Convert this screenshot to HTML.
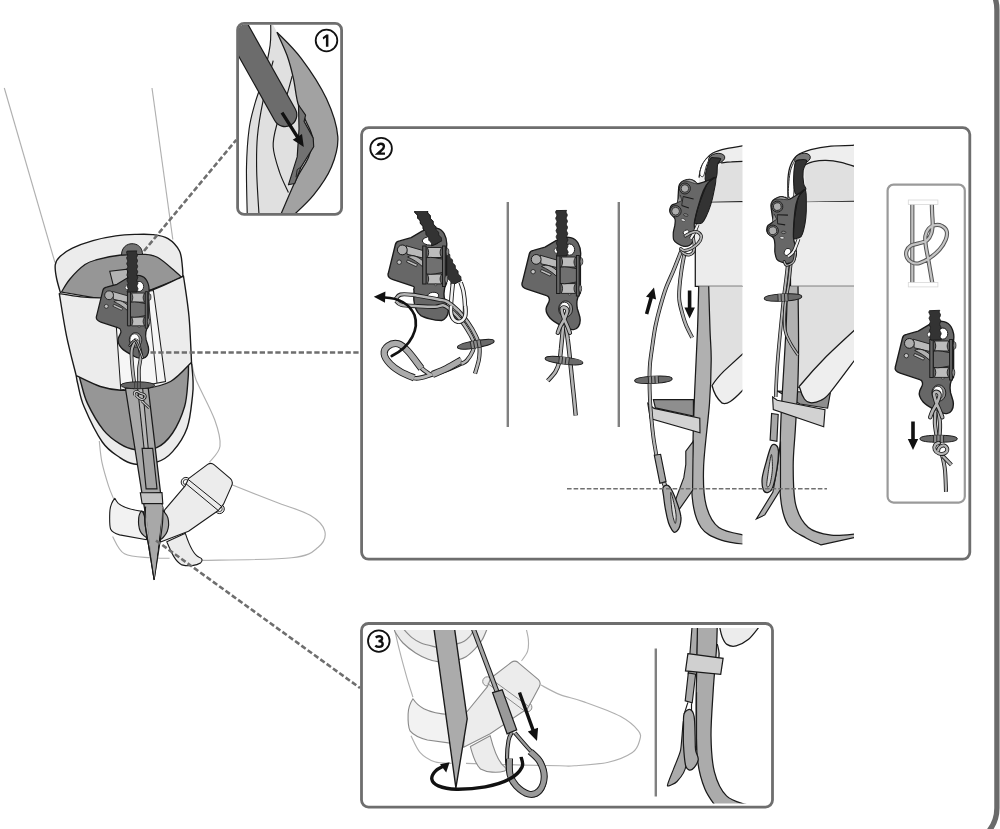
<!DOCTYPE html><html><head><meta charset="utf-8"><style>html,body{margin:0;padding:0;background:#fff;overflow:hidden}body{width:1000px;height:829px;font-family:"Liberation Sans",sans-serif}</style></head><body><svg width="1000" height="829" viewBox="0 0 1000 829" style="display:block"><path d="M959.9,-27.3 A37,37 0 0 1 996.9,9.7 V808 A37,37 0 0 1 959.9,845" fill="none" stroke="#6a6a6a" stroke-width="5.3"/>
<path d="M4.3,88 L55,262.7" stroke="#b0b0b0" stroke-width="1.15" fill="none"/><path d="M152,88 L172.8,239.5" stroke="#b0b0b0" stroke-width="1.15" fill="none"/><path d="M192.1,364.1 C192.8,366.7 192.4,370.7 196.1,380 C199.9,389.3 210.7,408.7 214.7,419.8 C218.7,430.9 220.9,439.3 220,446.3 C219.1,453.4 211.2,459.6 209.4,462.2" stroke="#b0b0b0" stroke-width="1.15" fill="none"/><path d="M231.9,484.8 C239.2,487.7 262.7,497 275.7,502 C288.8,507.1 302,510.5 310.2,515.3 C318.4,520.2 323.5,525.9 324.8,531.2 C326.1,536.5 323.7,542.7 318.2,547.2 C312.6,551.6 311.1,555.6 291.6,557.8 C272.2,560 216.5,560 201.4,560.4" stroke="#b0b0b0" stroke-width="1.15" fill="none"/><path d="M99.3,441 C99.7,444.6 100.4,454.7 101.9,462.2 C103.5,469.8 106.6,479.9 108.6,486.1 C110.6,492.3 113,497.2 113.9,499.4" stroke="#b0b0b0" stroke-width="1.15" fill="none"/><path d="M112.6,536.5 C114.5,539.4 118.1,550.2 124.5,553.8 C130.9,557.3 143.5,557 151,557.8 C158.5,558.5 166.5,558.2 169.6,558.3" stroke="#b0b0b0" stroke-width="1.15" fill="none"/><path transform="translate(40,380) scale(0.26525)" d="M478,610 C495,650 510,685 535,697 C560,704 590,700 605,690 C615,680 612,672 600,668 C580,660 565,630 548,578 Z" fill="#ececec" stroke="#1a1a1a" stroke-width="1.1" vector-effect="non-scaling-stroke" stroke-linejoin="round" /><circle cx="185.9" cy="482.1" r="4.7" fill="#ececec" stroke="#1a1a1a" stroke-width="1"/><circle cx="185.9" cy="482.1" r="2.6" fill="#fff" stroke="#1a1a1a" stroke-width="0.8"/><circle cx="219.6" cy="508.9" r="4.7" fill="#ececec" stroke="#1a1a1a" stroke-width="1"/><circle cx="219.6" cy="508.9" r="2.6" fill="#fff" stroke="#1a1a1a" stroke-width="0.8"/><path transform="translate(40,380) scale(0.26525)" d="M452,612 L470,490 L548,398 L560,372 L632,318 Q645,310 657,320 L718,372 Q730,384 722,400 L692,468 L672,492 L560,570 Z" fill="#ececec" stroke="#1a1a1a" stroke-width="1.1" vector-effect="non-scaling-stroke" stroke-linejoin="round" /><path transform="translate(40,380) scale(0.26525)" d="M560,376 L684,476 M549,390 L672,492" fill="none" stroke="#1a1a1a" stroke-width="1" vector-effect="non-scaling-stroke" stroke-linejoin="round" /><path transform="translate(40,380) scale(0.26525)" d="M282,446 C270,460 264,475 263,500 C262,530 262,550 266,562 C272,575 285,580 300,584 L402,602 L390,496 C350,490 310,478 295,465 C288,458 285,452 282,446 Z" fill="#f2f2f2" stroke="#1a1a1a" stroke-width="1.1" vector-effect="non-scaling-stroke" stroke-linejoin="round" /><path d="M76.2,375.6 C76.5,377 76.5,378.9 77.8,384 C79.1,389.1 79.9,396.8 84,406.5 C88.1,416.2 96.4,433.5 102.3,442 C108.2,450.5 114.2,453.6 119.5,457.3 C124.8,461 127.8,463.2 134,464 C140.2,464.8 150.3,464.3 156.7,462.2 C163.1,460.1 167.5,457.4 172.6,451.6 C177.7,445.9 183.9,437 187.2,427.7 C190.5,418.4 191.5,403.9 192.5,396 C193.5,388.1 193.2,385.6 193,380 C192.8,374.4 191.8,365.2 191.5,362.3" fill="#ececec" stroke="#1a1a1a" stroke-width="1.38" /><path d="M79.5,377 C79.8,378 79.6,378.5 81,383 C82.4,387.5 83.9,396 87.7,403.9 C91.5,411.8 98.4,423.8 103.7,430.4 C109,437 114.5,440.5 119.6,443.7 C124.7,446.9 128,448.9 134.2,449.5 C140.4,450.1 150.3,450.4 156.7,447.6 C163.1,444.9 167.9,439.9 172.6,433 C177.2,426.1 182,415.3 184.6,406.5 C187.2,397.7 187.3,386.8 188,380 C188.7,373.2 188.4,368.3 188.5,366" fill="#969696" stroke="#1a1a1a" stroke-width="1.38" /><path d="M60.5,293 C59.8,290.5 57.4,282.7 56.5,278 C55.6,273.3 54.7,268.2 55.3,264.6 C55.9,261 57.1,259.2 60,256.5 C62.9,253.8 66.9,250.8 72.4,248.2 C77.9,245.5 85.8,242.6 93,240.6 C100.2,238.6 108.8,236.9 115.8,235.9 C122.8,234.9 128.9,234.6 135,234.4 C141.1,234.2 147,233.9 152.5,234.6 C158,235.3 163.5,235.9 168,238.6 C172.5,241.3 177.1,246.3 179.5,251 C181.9,255.7 181.8,262.2 182.4,267 C183,271.8 182.9,277.8 183,280" fill="#ececec" stroke="#1a1a1a" stroke-width="1.38" /><path d="M61.5,292 C62.9,289.8 66.1,283.6 70,279 C73.9,274.4 80.5,267.8 85,264.6 C89.5,261.4 91,261.3 97,259.7 C103,258.1 113.5,255.9 121.2,255 C128.9,254.1 137,253.9 143,254.3 C149,254.7 152.1,254.5 157.4,257.3 C162.7,260.1 170.9,267.8 175,271.2 C179.1,274.6 180.7,276.4 181.8,277.5 L120,302Z" fill="#969696" stroke="#1a1a1a" stroke-width="1.26" /><path d="M121.5,255 C121.5,240 142.5,240 142.5,254.4 Z" fill="#727272" stroke="#1a1a1a" stroke-width="1"/><path d="M109.7,271.2 L127.5,269.2 L128,300 L117,300 Z" fill="#b2b2b2" stroke="#1a1a1a" stroke-width="1.03" /><path d="M59.3,293.6 C62.9,294.2 74.2,296.2 81,296.9 C87.8,297.6 93.8,297.9 100.3,297.9 C106.8,297.9 111.2,298.4 120,297 C128.8,295.6 142.8,293 153.4,289.5 C164,286 178.5,278.2 183.5,276 C184.4,282.8 187.7,302.1 189,316.5 C190.3,330.9 191.1,354.7 191.5,362.3 C188,365.5 178.5,377.1 170.5,381.5 C162.5,385.9 152,387.6 143.7,389 C135.4,390.4 128,390.6 120.8,390.2 C113.6,389.8 107.7,388.9 100.3,386.5 C92.9,384.1 80.2,377.4 76.2,375.6 C74.6,369 69.3,349.5 66.5,335.8 C63.7,322.1 60.5,300.6 59.3,293.6Z" fill="#ececec" stroke="#1a1a1a" stroke-width="1.38" stroke-linejoin="round"/><path d="M114.2,296.5 L120.8,390 L165.5,381.5 L153.4,290.5 Z" fill="#f6f6f6" stroke="#1a1a1a" stroke-width="1.03" /><path d="M147.6,291.5 L157,383" fill="none" stroke="#1a1a1a" stroke-width="0.92" /><path d="M125.4,388 L142.1,494.1 L146.1,517.9 L154.1,579.5 L163.3,512.6 L160.7,494.1 L148.2,388Z" fill="#a8a8a8" stroke="#1a1a1a" stroke-width="1.26" stroke-linejoin="round"/><path d="M137.6,388 L142.6,388 L148.2,448 L144,448Z" fill="#b6b6b6" stroke="none" stroke-width="1.26" /><path d="M137.6,388 L144,448" fill="none" stroke="#1a1a1a" stroke-width="1.03" /><path d="M142.6,388 L148.2,448" fill="none" stroke="#1a1a1a" stroke-width="1.03" /><path d="M142.1,448.4 L152.7,448.4 L157,488.8 L146.1,488.8Z" fill="#a2a2a2" stroke="#1a1a1a" stroke-width="1.15" /><path d="M140.3,492.7 L162,492.5 L162.8,503.6 L142.1,503.6Z" fill="#c4c4c4" stroke="#1a1a1a" stroke-width="1.15" /><path d="M142.1,511.3 C140.9,510.4 139,514.6 138.7,517.9 C138.4,521.2 138.8,528 140.3,531.2 C141.7,534.4 146.5,538.4 147.4,537 C148.4,535.7 147,527.5 146.1,523.2 C145.2,518.9 143.4,512.2 142.1,511.3Z" fill="#a8a8a8" stroke="#1a1a1a" stroke-width="1.15" /><path d="M161.5,510.5 C162.7,509.6 166.9,514.5 167.9,517.9 C168.8,521.4 168.6,527.7 167.3,531.2 C166,534.7 161,540.5 159.9,539.2 C158.8,537.8 160.4,528 160.7,523.2 C161,518.5 160.3,511.4 161.5,510.5Z" fill="#a8a8a8" stroke="#1a1a1a" stroke-width="1.15" /><path d="M146.1,504.7 L154.1,579.5 L162.5,504.7" fill="#a8a8a8" stroke="none" stroke-width="1.15" /><path d="M145.6,506.8 C145.5,509.5 144.4,516.1 145,523.2 C145.7,530.4 147.8,540.4 149.3,549.8 C150.8,559.1 153.3,574.5 154.1,579.5" fill="#a8a8a8" stroke="#1a1a1a" stroke-width="1.15" /><path d="M162.8,506.8 C162.8,509.5 163.2,516.1 162.5,523.2 C161.9,530.4 160.2,540.4 158.8,549.8 C157.4,559.1 154.9,574.5 154.1,579.5" fill="none" stroke="#1a1a1a" stroke-width="1.15" /><path d="M145.6,506.8 L154.1,579.5 L162.8,506.8Z" fill="#a8a8a8" stroke="none" stroke-width="1.15" /><path d="M145.6,506.8 C145.5,509.5 144.4,516.1 145,523.2 C145.7,530.4 147.8,540.4 149.3,549.8 C150.8,559.1 153.3,574.5 154.1,579.5" fill="none" stroke="#1a1a1a" stroke-width="1.15" /><g transform="translate(-373.5,61.8) scale(0.9)"><path d="M529.3,254 Q530,251 533.5,250.4 L545,247.2 L556,240.6 L562,238.4 C567,236.2 574.5,236.8 578,243 C580.8,248 581,253 580.4,257 L580.4,293 C577,297 576.2,303 577.4,309 C578.6,313 580.2,316 580.2,320 C580.2,325 577.6,329.3 573.6,329.6 C570,330 566,328.5 563,326.5 C556,323 552.5,321 550,318 C546,313.5 545.5,310 546.5,307 C548,303 550,301.5 549.3,299 C549,296.8 547.5,295.8 546.6,295.6 L527,289.2 C523,287.8 521.4,285.2 522.2,282.8 Z" fill="#676767" stroke="#1a1a1a" stroke-width="1.38" stroke-linejoin="round"/><ellipse cx="565.6" cy="309" rx="7" ry="8.2" fill="#8f8f8f" stroke="#1a1a1a" stroke-width="0.9"/><ellipse cx="564.6" cy="309" rx="5.2" ry="6.8" fill="#fff" stroke="#1a1a1a" stroke-width="0.8"/><path d="M540,255.2 L556.8,260 L556.8,267.5 L541,263.8 Z" fill="#b9b9b9" stroke="#1a1a1a" stroke-width="0.92" /><path d="M541.5,266.5 C546,263.5 552,266 556.8,270.5 L556.8,276.5 C552,272 547,268.8 541.5,266.5Z" fill="#b0b0b0" stroke="#1a1a1a" stroke-width="0.92" /><circle cx="536.2" cy="259.4" r="4.9" fill="#adadad" stroke="#1a1a1a" stroke-width="1"/><circle cx="533.1" cy="271.7" r="2.2" fill="#c2c2c2" stroke="#1a1a1a" stroke-width="0.8"/><path d="M541.4,269.4 L551.4,274 L550.2,276.2 L540.4,271.6 Z" fill="#bdbdbd" stroke="#1a1a1a" stroke-width="0.8" /><ellipse cx="569.6" cy="249.6" rx="5" ry="5.6" fill="#fff" stroke="#1a1a1a" stroke-width="1"/><ellipse cx="556.2" cy="250.6" rx="2" ry="2.6" fill="#fff" stroke="#1a1a1a" stroke-width="0.6"/><path d="M561.2,257 L575.6,257 C573.5,260.5 573.5,263.5 575.6,267 L561.2,267 C563,263.5 563,260.5 561.2,257Z" fill="#bcbcbc" stroke="#1a1a1a" stroke-width="0.92" /><path d="M561.2,283.6 L575.6,283.6 C573.5,287 573.5,290 575.6,293.4 L561.2,293.4 C563,290 563,287 561.2,283.6Z" fill="#bcbcbc" stroke="#1a1a1a" stroke-width="0.92" /><path d="M560,267.2 C566,266 572,268 578.6,269 L578.6,281.6 C572,282.6 566,284.6 560,283.4Z" fill="#707070" stroke="#1a1a1a" stroke-width="0.92" /><path d="M556.6,255.4 H560 V293.4 H556.6Z" fill="#676767" stroke="#1a1a1a" stroke-width="1.03" /><path d="M576.4,255.4 H579.2 V296 H576.4Z" fill="#676767" stroke="#1a1a1a" stroke-width="1.03" /><ellipse cx="581.4" cy="261.4" rx="1.4" ry="3.6" fill="#8a8a8a" stroke="#1a1a1a" stroke-width="0.7"/><ellipse cx="580.2" cy="288.6" rx="1.4" ry="3.6" fill="#8a8a8a" stroke="#1a1a1a" stroke-width="0.7"/><ellipse cx="569.6" cy="294.4" rx="1.2" ry="0.9" fill="#999" stroke="#1a1a1a" stroke-width="0.5"/></g><path d="M136.5,338.7 C135.7,340.6 132.3,345.1 131.7,350.3 C131,355.4 132.1,363.1 132.6,369.6 C133.2,376 134.7,385.7 135.1,388.9" fill="none" stroke="#1a1a1a" stroke-width="3.7" stroke-linecap="butt" stroke-linejoin="round"/><path d="M136.5,338.7 C135.7,340.6 132.3,345.1 131.7,350.3 C131,355.4 132.1,363.1 132.6,369.6 C133.2,376 134.7,385.7 135.1,388.9" fill="none" stroke="#b4b4b4" stroke-width="2.1" stroke-linecap="butt" stroke-linejoin="round"/><path d="M137.5,340.6 C138,343 140.6,350.3 140.8,355.1 C141.1,359.9 139.2,363.9 138.9,369.6 C138.7,375.2 139.3,385.7 139.4,388.9" fill="none" stroke="#1a1a1a" stroke-width="3.7" stroke-linecap="butt" stroke-linejoin="round"/><path d="M137.5,340.6 C138,343 140.6,350.3 140.8,355.1 C141.1,359.9 139.2,363.9 138.9,369.6 C138.7,375.2 139.3,385.7 139.4,388.9" fill="none" stroke="#b4b4b4" stroke-width="2.1" stroke-linecap="butt" stroke-linejoin="round"/><path d="M129.7,345.5 C130.6,344.6 133,340.2 134.6,340.6 C136.1,341 137.6,345.1 138.9,347.9 C140.2,350.7 141.9,355.9 142.5,357.5" fill="none" stroke="#1a1a1a" stroke-width="2.6" stroke-linecap="round" stroke-linejoin="round"/><path d="M129.7,345.5 C130.6,344.6 133,340.2 134.6,340.6 C136.1,341 137.6,345.1 138.9,347.9 C140.2,350.7 141.9,355.9 142.5,357.5" fill="none" stroke="#c4c4c4" stroke-width="1.0" stroke-linecap="round" stroke-linejoin="round"/><ellipse cx="137.7" cy="385.3" rx="17" ry="3.5" fill="#666" stroke="#1a1a1a" stroke-width="0.9"/><path d="M134.6,382.1 L134.6,388.9" fill="none" stroke="#333" stroke-width="0.8" /><path d="M137.5,382.1 L137.5,388.9" fill="none" stroke="#333" stroke-width="0.8" /><path d="M140.4,382.1 L140.4,388.9" fill="none" stroke="#333" stroke-width="0.8" /><path d="M141.9,401 L149.2,407.9" fill="none" stroke="#1a1a1a" stroke-width="2.7" stroke-linecap="butt" stroke-linejoin="round"/><path d="M141.9,401 L149.2,407.9" fill="none" stroke="#c8c8c8" stroke-width="1.2000000000000002" stroke-linecap="butt" stroke-linejoin="round"/><path transform="translate(115,370) scale(0.07236)" d="M270,345 C255,300 300,280 330,310 C360,340 400,320 415,350 C430,390 390,420 350,400 C320,385 300,365 290,350" fill="none" stroke="#1a1a1a" stroke-width="38"/><path transform="translate(115,370) scale(0.07236)" d="M270,345 C255,300 300,280 330,310 C360,340 400,320 415,350 C430,390 390,420 350,400 C320,385 300,365 290,350" fill="none" stroke="#c8c8c8" stroke-width="17"/><path d="M127.1,251.1 L126.7,251.8 L126.6,252.6 L126.8,253.3 L127.2,254.1 L127.6,254.8 L127.6,255.5 L127.4,256.3 L127,257 L126.7,257.8 L126.8,258.5 L127.1,259.3 L127.5,260 L127.7,260.8 L127.6,261.5 L127.3,262.3 L126.9,263 L126.8,263.8 L127,264.5 L127.4,265.2 L127.7,266 L127.8,266.7 L127.6,267.5 L127.2,268.2 L126.9,269 L126.9,269.7 L127.3,270.5 L127.7,271.2 L127.9,271.9 L127.8,272.7 L127.4,273.4 L127.1,274.2 L127,274.9 L127.1,275.7 L127.6,276.4 L127.9,277.2 L128,277.9 L127.7,278.7 L127.3,279.4 L127.1,280.2 L127.1,280.9 L127.4,281.6 L127.8,282.4 L128.1,283.1 L128,283.9 L127.6,284.6 L127.3,285.4 L127.1,286.1 L127.3,286.9 L127.7,287.6 L128.1,288.3 L128.1,289.1 L127.9,289.8 L127.5,290.6 L127.2,291.3 L127.3,292.1 L137.1,291.9 L137,291.2 L137.3,290.4 L137.7,289.7 L137.9,288.9 L137.9,288.2 L137.5,287.5 L137.1,286.7 L136.9,286 L137,285.2 L137.4,284.5 L137.8,283.7 L137.9,283 L137.6,282.2 L137.2,281.5 L136.9,280.8 L136.9,280 L137.1,279.3 L137.5,278.5 L137.8,277.8 L137.7,277 L137.4,276.3 L136.9,275.5 L136.7,274.8 L136.9,274 L137.2,273.3 L137.6,272.5 L137.7,271.8 L137.5,271.1 L137.1,270.3 L136.7,269.6 L136.7,268.8 L137,268.1 L137.4,267.3 L137.6,266.6 L137.5,265.8 L137.2,265.1 L136.8,264.4 L136.6,263.6 L136.7,262.9 L137.1,262.1 L137.4,261.4 L137.5,260.6 L137.3,259.9 L136.9,259.1 L136.6,258.4 L136.5,257.6 L136.8,256.9 L137.2,256.1 L137.4,255.4 L137.4,254.6 L137,253.9 L136.6,253.2 L136.4,252.4 L136.5,251.7 L136.9,250.9Z" fill="#333" stroke="#1a1a1a" stroke-width="0.92" stroke-linejoin="round"/>
<clipPath id="c2a"><rect x="380" y="211" width="120" height="200"/></clipPath><g clip-path="url(#c2a)"><path d="M412,205.5 L412,206.3 L412.2,207.1 L412.6,207.7 L413.3,208.2 L413.9,208.7 L414.4,209.3 L414.7,210 L414.8,210.8 L414.8,211.6 L414.9,212.4 L415.3,213 L415.8,213.6 L416.5,214.1 L417.1,214.6 L417.4,215.3 L417.5,216 L417.6,216.9 L417.6,217.7 L417.9,218.4 L418.4,218.9 L419,219.4 L419.7,220 L420.1,220.6 L420.3,221.3 L420.3,222.1 L420.4,223 L420.5,223.7 L421,224.3 L421.6,224.8 L422.3,225.3 L422.8,225.9 L423,226.6 L423.1,227.4 L423.1,228.2 L423.2,229 L423.6,229.7 L424.2,230.2 L424.8,230.7 L425.4,231.2 L425.8,231.9 L425.9,232.7 L425.9,233.5 L426,234.3 L426.2,235 L426.7,235.6 L427.4,236.1 L428,236.6 L428.4,237.2 L428.6,237.9 L428.7,238.8 L428.7,239.6 L428.9,240.3 L429.3,240.9 L429.9,241.4 L430.6,242 L431.1,242.5 L431.4,243.2 L431.4,244 L431.4,244.9 L431.6,245.6 L431.9,246.3 L432.5,246.8 L433.2,247.3 L433.7,247.9 L434.1,248.5 L434.2,249.3 L434.2,250.1 L434.3,250.9 L434.6,251.6 L435.1,252.2 L435.7,252.7 L436.3,253.2 L436.8,253.8 L437,254.6 L437,255.4 L437,256.2 L437.2,256.9 L437.6,257.6 L438.3,258.1 L438.9,258.6 L439.4,259.2 L439.7,259.8 L439.8,260.6 L439.8,261.5 L439.9,262.2 L440.3,262.9 L440.8,263.4 L441.5,263.9 L442.1,264.5 L442.4,265.1 L442.5,265.9 L442.6,266.7 L442.6,267.5 L442.9,268.2 L443.4,268.8 L444,269.3 L444.7,269.8 L445.1,270.5 L445.3,271.2 L445.3,272 L445.4,272.8 L445.5,273.6 L446,274.2 L446.6,274.7 L447.3,275.2 L447.8,275.8 L448,276.5 L448.1,277.3 L448.1,278.1 L448.2,278.9 L448.6,279.5 L449.2,280.1 L449.8,280.6 L450.4,281.1 L450.8,281.8 L450.9,282.5 L450.9,283.4 L451,284.2 L451.2,284.9 L451.7,285.4 L461.7,280.4 L461.2,279.8 L461,279.1 L460.9,278.3 L460.9,277.5 L460.8,276.8 L460.4,276.1 L459.8,275.6 L459.2,275.1 L458.6,274.5 L458.2,273.9 L458.1,273.1 L458.1,272.3 L458.1,271.5 L457.8,270.8 L457.3,270.2 L456.6,269.7 L456,269.2 L455.6,268.5 L455.4,267.8 L455.3,267 L455.3,266.2 L455.1,265.4 L454.7,264.8 L454.1,264.3 L453.4,263.8 L452.9,263.2 L452.6,262.5 L452.6,261.7 L452.6,260.9 L452.4,260.1 L452.1,259.5 L451.5,258.9 L450.8,258.4 L450.3,257.9 L449.9,257.2 L449.8,256.5 L449.8,255.6 L449.7,254.8 L449.4,254.1 L448.9,253.6 L448.3,253.1 L447.7,252.5 L447.2,251.9 L447,251.2 L447,250.4 L447,249.5 L446.8,248.8 L446.3,248.2 L445.7,247.7 L445.1,247.2 L444.6,246.6 L444.3,245.9 L444.2,245.1 L444.2,244.3 L444.1,243.5 L443.7,242.8 L443.2,242.3 L442.5,241.8 L441.9,241.3 L441.6,240.6 L441.5,239.8 L441.5,239 L441.4,238.2 L441.1,237.5 L440.6,236.9 L439.9,236.4 L439.3,235.9 L438.9,235.3 L438.7,234.6 L438.7,233.7 L438.6,232.9 L438.5,232.2 L438,231.6 L437.4,231.1 L436.7,230.5 L436.2,230 L436,229.3 L435.9,228.5 L435.9,227.6 L435.8,226.9 L435.4,226.2 L434.8,225.7 L434.2,225.2 L433.6,224.6 L433.2,224 L433.1,223.2 L433.1,222.4 L433.1,221.6 L432.8,220.9 L432.3,220.3 L431.6,219.8 L431,219.3 L430.6,218.7 L430.4,217.9 L430.3,217.1 L430.3,216.3 L430.1,215.6 L429.7,214.9 L429.1,214.4 L428.4,213.9 L427.9,213.3 L427.6,212.6 L427.6,211.9 L427.6,211 L427.4,210.3 L427.1,209.6 L426.5,209.1 L425.8,208.6 L425.3,208 L424.9,207.4 L424.8,206.6 L424.8,205.8 L424.7,205 L424.4,204.3 L423.9,203.7 L423.3,203.2 L422.7,202.7 L422.2,202 L422,201.3 L422,200.5Z" fill="#333" stroke="#1a1a1a" stroke-width="0.92" stroke-linejoin="round"/></g><path d="M452.8,283.8 C452.6,286.3 451.7,294 451.4,299 C451,303.9 450.3,310.1 450.8,313.4 C451.3,316.8 452.9,318 454.3,319.2 C455.6,320.5 457,321.4 458.6,321 C460.2,320.5 463,318.8 464.1,316.3 C465.2,313.9 465.1,310.3 465,306.2 C464.9,302.1 464.2,295.7 463.5,291.7 C462.8,287.7 461.1,283.9 460.6,282.3" fill="none" stroke="#1a1a1a" stroke-width="4.4" stroke-linecap="butt" stroke-linejoin="round"/><path d="M452.8,283.8 C452.6,286.3 451.7,294 451.4,299 C451,303.9 450.3,310.1 450.8,313.4 C451.3,316.8 452.9,318 454.3,319.2 C455.6,320.5 457,321.4 458.6,321 C460.2,320.5 463,318.8 464.1,316.3 C465.2,313.9 465.1,310.3 465,306.2 C464.9,302.1 464.2,295.7 463.5,291.7 C462.8,287.7 461.1,283.9 460.6,282.3" fill="none" stroke="#f2f2f2" stroke-width="2.6000000000000005" stroke-linecap="butt" stroke-linejoin="round"/><g transform="translate(-133.9,-9.5)"><path d="M529.3,254 Q530,251 533.5,250.4 L545,247.2 L556,240.6 L562,238.4 C567,236.2 574.5,236.8 578,243 C580.8,248 581,253 580.4,257 L580.4,293 C578,297 577.4,303 578.4,308.5 C580,313 582.2,316 582.2,320.6 C582,325 579,329.4 575.6,330 C570,330 567,329.4 564.9,328.7 C560,327.4 557,326.6 554.8,325.1 C550.5,322 548.4,316 547.8,310 C547.4,305 548.4,301 547.6,298.6 C549,296.8 547.5,295.8 546.6,295.6 L527,289.2 C523,287.8 521.4,285.2 522.2,282.8 Z" fill="#676767" stroke="#1a1a1a" stroke-width="1.38" stroke-linejoin="round"/><ellipse cx="567" cy="305.2" rx="5.6" ry="3.4" fill="#fff" stroke="#1a1a1a" stroke-width="0.9" transform="rotate(-6 567 305.2)"/><path d="M540,255.2 L556.8,260 L556.8,267.5 L541,263.8 Z" fill="#b9b9b9" stroke="#1a1a1a" stroke-width="0.92" /><path d="M541.5,266.5 C546,263.5 552,266 556.8,270.5 L556.8,276.5 C552,272 547,268.8 541.5,266.5Z" fill="#b0b0b0" stroke="#1a1a1a" stroke-width="0.92" /><circle cx="536.2" cy="259.4" r="4.9" fill="#adadad" stroke="#1a1a1a" stroke-width="1"/><circle cx="533.1" cy="271.7" r="2.2" fill="#c2c2c2" stroke="#1a1a1a" stroke-width="0.8"/><path d="M541.4,269.4 L551.4,274 L550.2,276.2 L540.4,271.6 Z" fill="#bdbdbd" stroke="#1a1a1a" stroke-width="0.8" /><ellipse cx="564.8" cy="250.4" rx="8.6" ry="4.3" fill="#fff" stroke="#1a1a1a" stroke-width="1"/><path d="M561.2,257 L575.6,257 C573.5,260.5 573.5,263.5 575.6,267 L561.2,267 C563,263.5 563,260.5 561.2,257Z" fill="#bcbcbc" stroke="#1a1a1a" stroke-width="0.92" /><path d="M561.2,283.6 L575.6,283.6 C573.5,287 573.5,290 575.6,293.4 L561.2,293.4 C563,290 563,287 561.2,283.6Z" fill="#bcbcbc" stroke="#1a1a1a" stroke-width="0.92" /><path d="M560,267.2 C566,266 572,268 578.6,269 L578.6,281.6 C572,282.6 566,284.6 560,283.4Z" fill="#707070" stroke="#1a1a1a" stroke-width="0.92" /><path d="M556.6,255.4 H560 V293.4 H556.6Z" fill="#676767" stroke="#1a1a1a" stroke-width="1.03" /><path d="M576.4,255.4 H579.2 V296 H576.4Z" fill="#676767" stroke="#1a1a1a" stroke-width="1.03" /><ellipse cx="581.4" cy="261.4" rx="1.4" ry="3.6" fill="#8a8a8a" stroke="#1a1a1a" stroke-width="0.7"/><ellipse cx="580.2" cy="288.6" rx="1.4" ry="3.6" fill="#8a8a8a" stroke="#1a1a1a" stroke-width="0.7"/><ellipse cx="569.6" cy="294.4" rx="1.2" ry="0.9" fill="#999" stroke="#1a1a1a" stroke-width="0.5"/></g><g clip-path="url(#c2a)"><path d="M412,205.5 L412,206.3 L412.2,207.1 L412.7,207.7 L413.3,208.2 L414,208.7 L414.5,209.3 L414.7,210 L414.8,210.8 L414.8,211.7 L414.9,212.4 L415.3,213.1 L415.9,213.6 L416.6,214.1 L417.1,214.7 L417.5,215.4 L417.6,216.1 L417.6,217 L417.7,217.8 L418,218.5 L418.5,219 L419.2,219.5 L419.8,220.1 L420.2,220.7 L420.3,221.5 L420.3,222.3 L420.4,223.1 L420.6,223.8 L421.1,224.4 L421.8,224.9 L422.4,225.5 L422.9,226.1 L423.1,226.8 L423.1,227.6 L423.2,228.4 L423.3,229.2 L423.8,229.8 L424.4,230.3 L425,230.8 L425.6,231.4 L425.8,232.1 L425.9,232.9 L425.9,233.8 L426,234.5 L426.4,235.2 L427,235.7 L427.7,236.2 L428.2,236.8 L428.6,237.5 L428.7,238.2 L428.7,239.1 L428.8,239.9 L429.1,240.6 L429.6,241.1 L430.3,241.7 L430.9,242.2 L431.3,242.8 L431.5,243.6 L431.5,244.4 L431.5,245.2 L431.7,245.9 L441.8,240.9 L441.5,240.2 L441.5,239.4 L441.5,238.5 L441.3,237.8 L440.9,237.2 L440.3,236.6 L439.6,236.1 L439.1,235.5 L438.8,234.9 L438.7,234.1 L438.7,233.2 L438.6,232.4 L438.2,231.8 L437.7,231.2 L437,230.7 L436.4,230.2 L436.1,229.5 L435.9,228.7 L435.9,227.9 L435.9,227.1 L435.6,226.4 L435,225.8 L434.4,225.3 L433.8,224.8 L433.3,224.2 L433.2,223.4 L433.1,222.6 L433.1,221.8 L432.9,221 L432.4,220.4 L431.8,219.9 L431.1,219.4 L430.6,218.8 L430.4,218.1 L430.4,217.3 L430.3,216.4 L430.2,215.7 L429.8,215 L429.2,214.5 L428.5,214 L428,213.4 L427.7,212.7 L427.6,212 L427.6,211.1 L427.5,210.3 L427.1,209.7 L426.6,209.1 L425.9,208.6 L425.3,208.1 L424.9,207.4 L424.8,206.6 L424.8,205.8 L424.7,205 L424.5,204.3 L424,203.7 L423.3,203.2 L422.7,202.7 L422.2,202 L422,201.3 L422,200.5Z" fill="#333" stroke="#1a1a1a" stroke-width="0.92" stroke-linejoin="round"/></g><path d="M462.6,362.6 C460,363.9 451.8,367.9 446.7,369.9 C441.7,371.9 437.4,373.1 432.2,374.5 C427.1,375.9 420.7,378.7 415.6,378.3 C410.5,377.9 406.1,374.4 401.8,372.1 C397.6,369.7 393.2,367.1 390.3,364.1 C387.3,361.1 384.5,357 384.2,354 C383.8,350.9 385.8,347.7 388.1,346 C390.4,344.3 394.9,343 398.2,343.8 C401.5,344.7 404.2,347.2 407.9,351.1 C411.7,355 417,363.4 420.7,367.3 C424.4,371.2 428.5,373.3 430.1,374.5" fill="none" stroke="#1a1a1a" stroke-width="4.6" stroke-linecap="butt" stroke-linejoin="round"/><path d="M462.6,362.6 C460,363.9 451.8,367.9 446.7,369.9 C441.7,371.9 437.4,373.1 432.2,374.5 C427.1,375.9 420.7,378.7 415.6,378.3 C410.5,377.9 406.1,374.4 401.8,372.1 C397.6,369.7 393.2,367.1 390.3,364.1 C387.3,361.1 384.5,357 384.2,354 C383.8,350.9 385.8,347.7 388.1,346 C390.4,344.3 394.9,343 398.2,343.8 C401.5,344.7 404.2,347.2 407.9,351.1 C411.7,355 417,363.4 420.7,367.3 C424.4,371.2 428.5,373.3 430.1,374.5" fill="none" stroke="#b6b6b6" stroke-width="2.8" stroke-linecap="butt" stroke-linejoin="round"/><path d="M461.5,360 C459,361.4 451.5,366 446.7,368.4 C441.9,370.8 434.9,373.5 432.5,374.5" fill="none" stroke="#1a1a1a" stroke-width="7.2" stroke-linecap="butt" stroke-linejoin="round"/><path d="M461.5,360 C459,361.4 451.5,366 446.7,368.4 C441.9,370.8 434.9,373.5 432.5,374.5" fill="none" stroke="#ababab" stroke-width="5.4" stroke-linecap="butt" stroke-linejoin="round"/><path d="M414.2,377.8 C412,376.9 405.1,374.3 401.1,372.1 C397.1,369.8 393.1,367.1 390.3,364.1 C387.4,361.1 384.5,357 384.2,354 C383.8,350.9 385.8,347.7 388.1,346 C390.4,344.3 394.9,343 398.2,343.8 C401.5,344.7 404.1,347 407.9,351.1 C411.8,355.2 419.1,365.5 421.4,368.4" fill="none" stroke="#1a1a1a" stroke-width="7.2" stroke-linecap="butt" stroke-linejoin="round"/><path d="M414.2,377.8 C412,376.9 405.1,374.3 401.1,372.1 C397.1,369.8 393.1,367.1 390.3,364.1 C387.4,361.1 384.5,357 384.2,354 C383.8,350.9 385.8,347.7 388.1,346 C390.4,344.3 394.9,343 398.2,343.8 C401.5,344.7 404.1,347 407.9,351.1 C411.8,355.2 419.1,365.5 421.4,368.4" fill="none" stroke="#ababab" stroke-width="5.4" stroke-linecap="butt" stroke-linejoin="round"/><path d="M395.8,300.7 C396.7,301.4 397.5,303.8 401.1,304.7 C404.8,305.7 412.1,305.9 417.8,306.2 C423.4,306.5 430.9,306.9 435.1,306.8 C439.4,306.6 440.8,305 443.1,305.3 C445.4,305.6 446.6,306.7 448.9,308.5 C451.2,310.3 454.6,313.3 457.1,316 C459.7,318.7 462,321.5 464.2,324.7 C466.5,328 469.1,332.5 470.8,335.6 C472.4,338.7 473.6,340.7 473.9,343.2 C474.3,345.8 474.1,347.9 472.9,350.8 C471.7,353.6 468.8,358.3 466.8,360.5 C464.9,362.6 462.4,363.2 461.5,363.8" fill="none" stroke="#1a1a1a" stroke-width="4.2" stroke-linecap="butt" stroke-linejoin="round"/><path d="M395.8,300.7 C396.7,301.4 397.5,303.8 401.1,304.7 C404.8,305.7 412.1,305.9 417.8,306.2 C423.4,306.5 430.9,306.9 435.1,306.8 C439.4,306.6 440.8,305 443.1,305.3 C445.4,305.6 446.6,306.7 448.9,308.5 C451.2,310.3 454.6,313.3 457.1,316 C459.7,318.7 462,321.5 464.2,324.7 C466.5,328 469.1,332.5 470.8,335.6 C472.4,338.7 473.6,340.7 473.9,343.2 C474.3,345.8 474.1,347.9 472.9,350.8 C471.7,353.6 468.8,358.3 466.8,360.5 C464.9,362.6 462.4,363.2 461.5,363.8" fill="none" stroke="#b6b6b6" stroke-width="2.5" stroke-linecap="butt" stroke-linejoin="round"/><path d="M395.3,299.7 C396.2,298.8 397.4,295.4 400.4,294.6 C403.4,293.8 408.8,294.4 413.4,294.9 C418,295.4 423.6,296.7 427.9,297.5 C432.2,298.3 436.2,299 439.5,299.7 C442.7,300.4 444.3,300 447.4,301.8 C450.6,303.7 454.7,307.1 458.2,310.5 C461.6,314 465.1,318.4 468,322.5 C470.9,326.7 473.8,331.6 475.7,335.6 C477.6,339.6 478.9,342.5 479.4,346.4 C480,350.4 479.6,354.9 478.9,359.5 C478.1,364 475.6,371.3 475,373.6" fill="none" stroke="#1a1a1a" stroke-width="4.2" stroke-linecap="butt" stroke-linejoin="round"/><path d="M395.3,299.7 C396.2,298.8 397.4,295.4 400.4,294.6 C403.4,293.8 408.8,294.4 413.4,294.9 C418,295.4 423.6,296.7 427.9,297.5 C432.2,298.3 436.2,299 439.5,299.7 C442.7,300.4 444.3,300 447.4,301.8 C450.6,303.7 454.7,307.1 458.2,310.5 C461.6,314 465.1,318.4 468,322.5 C470.9,326.7 473.8,331.6 475.7,335.6 C477.6,339.6 478.9,342.5 479.4,346.4 C480,350.4 479.6,354.9 478.9,359.5 C478.1,364 475.6,371.3 475,373.6" fill="none" stroke="#b6b6b6" stroke-width="2.5" stroke-linecap="butt" stroke-linejoin="round"/><path d="M451.2,306 C451.1,306.8 450.8,309.4 450.9,311 C451,312.6 451.2,314.1 451.6,315.5 C452.1,316.9 452.6,318.2 453.6,319.3 C454.6,320.4 456.2,321.6 457.7,321.8 C459.2,322 461.1,321.4 462.4,320.4 C463.6,319.4 464.7,317.6 465.2,316 C465.7,314.4 465.6,312.7 465.6,311 C465.6,309.3 465.3,306.8 465.2,306" fill="none" stroke="#1a1a1a" stroke-width="4.4" stroke-linecap="butt" stroke-linejoin="round"/><path d="M451.2,306 C451.1,306.8 450.8,309.4 450.9,311 C451,312.6 451.2,314.1 451.6,315.5 C452.1,316.9 452.6,318.2 453.6,319.3 C454.6,320.4 456.2,321.6 457.7,321.8 C459.2,322 461.1,321.4 462.4,320.4 C463.6,319.4 464.7,317.6 465.2,316 C465.7,314.4 465.6,312.7 465.6,311 C465.6,309.3 465.3,306.8 465.2,306" fill="none" stroke="#f2f2f2" stroke-width="2.6000000000000005" stroke-linecap="butt" stroke-linejoin="round"/><g transform="rotate(-10 475.8 344.2)"><path d="M457.2,344.2 C457.2,341.6 465.6,340.7 475.8,340.7 C486,340.7 494.4,341.6 494.4,344.2 C494.4,346.8 486,347.7 475.8,347.7 C465.6,347.7 457.2,346.8 457.2,344.2Z" fill="#6a6a6a" stroke="#1a1a1a" stroke-width="1"/><rect x="470.8" y="340.8" width="10" height="6.8" fill="#8c8c8c"/><path d="M470.8,340.7 V347.7" stroke="#2a2a2a" stroke-width="1"/><path d="M474,340.7 V347.7" stroke="#2a2a2a" stroke-width="1"/><path d="M477.4,340.7 V347.7" stroke="#2a2a2a" stroke-width="1"/><path d="M480.8,340.7 V347.7" stroke="#2a2a2a" stroke-width="1"/></g><path d="M384.5,297.5 C398,298 409,303 414.5,315 C419,328 412,346 391.7,356" fill="none" stroke="#111" stroke-width="2.7" stroke-linecap="round"/><path d="M373.8,296.8 L385.4,291.4 L385,302.8 Z" fill="#111"/><g transform="translate(0,0)"><path d="M529.3,254 Q530,251 533.5,250.4 L545,247.2 L556,240.6 L562,238.4 C567,236.2 574.5,236.8 578,243 C580.8,248 581,253 580.4,257 L580.4,293 C577,297 576.2,303 577.4,309 C578.6,313 580.2,316 580.2,320 C580.2,325 577.6,329.3 573.6,329.6 C570,330 566,328.5 563,326.5 C556,323 552.5,321 550,318 C546,313.5 545.5,310 546.5,307 C548,303 550,301.5 549.3,299 C549,296.8 547.5,295.8 546.6,295.6 L527,289.2 C523,287.8 521.4,285.2 522.2,282.8 Z" fill="#676767" stroke="#1a1a1a" stroke-width="1.38" stroke-linejoin="round"/><ellipse cx="565.6" cy="309" rx="7" ry="8.2" fill="#8f8f8f" stroke="#1a1a1a" stroke-width="0.9"/><ellipse cx="564.6" cy="309" rx="5.2" ry="6.8" fill="#fff" stroke="#1a1a1a" stroke-width="0.8"/><path d="M540,255.2 L556.8,260 L556.8,267.5 L541,263.8 Z" fill="#b9b9b9" stroke="#1a1a1a" stroke-width="0.92" /><path d="M541.5,266.5 C546,263.5 552,266 556.8,270.5 L556.8,276.5 C552,272 547,268.8 541.5,266.5Z" fill="#b0b0b0" stroke="#1a1a1a" stroke-width="0.92" /><circle cx="536.2" cy="259.4" r="4.9" fill="#adadad" stroke="#1a1a1a" stroke-width="1"/><circle cx="533.1" cy="271.7" r="2.2" fill="#c2c2c2" stroke="#1a1a1a" stroke-width="0.8"/><path d="M541.4,269.4 L551.4,274 L550.2,276.2 L540.4,271.6 Z" fill="#bdbdbd" stroke="#1a1a1a" stroke-width="0.8" /><ellipse cx="569.6" cy="249.6" rx="5" ry="5.6" fill="#fff" stroke="#1a1a1a" stroke-width="1"/><ellipse cx="556.2" cy="250.6" rx="2" ry="2.6" fill="#fff" stroke="#1a1a1a" stroke-width="0.6"/><path d="M561.2,257 L575.6,257 C573.5,260.5 573.5,263.5 575.6,267 L561.2,267 C563,263.5 563,260.5 561.2,257Z" fill="#bcbcbc" stroke="#1a1a1a" stroke-width="0.92" /><path d="M561.2,283.6 L575.6,283.6 C573.5,287 573.5,290 575.6,293.4 L561.2,293.4 C563,290 563,287 561.2,283.6Z" fill="#bcbcbc" stroke="#1a1a1a" stroke-width="0.92" /><path d="M560,267.2 C566,266 572,268 578.6,269 L578.6,281.6 C572,282.6 566,284.6 560,283.4Z" fill="#707070" stroke="#1a1a1a" stroke-width="0.92" /><path d="M556.6,255.4 H560 V293.4 H556.6Z" fill="#676767" stroke="#1a1a1a" stroke-width="1.03" /><path d="M576.4,255.4 H579.2 V296 H576.4Z" fill="#676767" stroke="#1a1a1a" stroke-width="1.03" /><ellipse cx="581.4" cy="261.4" rx="1.4" ry="3.6" fill="#8a8a8a" stroke="#1a1a1a" stroke-width="0.7"/><ellipse cx="580.2" cy="288.6" rx="1.4" ry="3.6" fill="#8a8a8a" stroke="#1a1a1a" stroke-width="0.7"/><ellipse cx="569.6" cy="294.4" rx="1.2" ry="0.9" fill="#999" stroke="#1a1a1a" stroke-width="0.5"/><path d="M556.2,210.6 L555.8,211.4 L555.7,212.1 L555.8,212.9 L556.2,213.6 L556.6,214.3 L556.8,215.1 L556.8,215.8 L556.5,216.6 L556.1,217.3 L555.8,218.1 L555.9,218.8 L556.2,219.6 L556.6,220.3 L556.9,221 L557,221.8 L556.7,222.5 L556.3,223.3 L556,224.1 L556,224.8 L556.2,225.5 L556.6,226.3 L557,227 L557.1,227.8 L557,228.5 L556.6,229.3 L556.2,230 L556.1,230.8 L556.3,231.5 L556.6,232.2 L557,233 L557.3,233.7 L557.2,234.5 L556.8,235.2 L556.5,236 L556.2,236.7 L556.3,237.5 L556.6,238.2 L557.1,239 L557.4,239.7 L557.4,240.4 L557.1,241.2 L556.7,241.9 L556.4,242.7 L556.4,243.4 L556.7,244.2 L557.1,244.9 L557.4,245.7 L557.5,246.4 L557.3,247.2 L557,247.9 L556.6,248.7 L556.5,249.4 L556.7,250.2 L557.1,250.9 L557.5,251.6 L557.7,252.4 L557.6,253.1 L557.2,253.9 L556.8,254.6 L556.6,255.4 L556.7,256.1 L567.1,255.9 L567,255.2 L567.2,254.4 L567.6,253.6 L568,252.9 L568.1,252.1 L567.9,251.4 L567.5,250.7 L567.1,249.9 L566.9,249.2 L567,248.4 L567.4,247.7 L567.7,246.9 L567.9,246.2 L567.8,245.4 L567.5,244.7 L567.1,244 L566.8,243.2 L566.8,242.5 L567.1,241.7 L567.5,241 L567.8,240.2 L567.8,239.5 L567.5,238.7 L567,238 L566.7,237.2 L566.6,236.5 L566.9,235.8 L567.2,235 L567.6,234.2 L567.7,233.5 L567.4,232.8 L567,232 L566.7,231.3 L566.5,230.5 L566.6,229.8 L567,229 L567.3,228.3 L567.5,227.5 L567.4,226.8 L567,226 L566.6,225.3 L566.4,224.6 L566.4,223.8 L566.7,223.1 L567.1,222.3 L567.4,221.6 L567.3,220.8 L567,220.1 L566.6,219.3 L566.3,218.6 L566.2,217.9 L566.5,217.1 L566.9,216.4 L567.2,215.6 L567.2,214.8 L567,214.1 L566.6,213.4 L566.2,212.6 L566.1,211.9 L566.2,211.1 L566.6,210.4Z" fill="#333" stroke="#1a1a1a" stroke-width="0.92" stroke-linejoin="round"/><path d="M563.1,325.8 C563,327.7 562.5,332.9 562.2,336.7 C561.8,340.5 561.4,344.8 561,348.8 C560.5,352.8 560.4,357 559.5,360.9 C558.6,364.7 557.5,368.4 555.5,371.7 C553.6,375 549,379.3 547.7,380.8" fill="none" stroke="#1a1a1a" stroke-width="4.4" stroke-linecap="butt" stroke-linejoin="round"/><path d="M563.1,325.8 C563,327.7 562.5,332.9 562.2,336.7 C561.8,340.5 561.4,344.8 561,348.8 C560.5,352.8 560.4,357 559.5,360.9 C558.6,364.7 557.5,368.4 555.5,371.7 C553.6,375 549,379.3 547.7,380.8" fill="none" stroke="#b6b6b6" stroke-width="2.6000000000000005" stroke-linecap="butt" stroke-linejoin="round"/><path d="M566,327 C566.3,329.1 567.2,334.7 567.7,339.1 C568.3,343.5 568.9,348.8 569.4,353.6 C569.9,358.4 570.3,362.3 570.9,368.1 C571.5,373.9 572.2,380.7 573,388.6 C573.9,396.5 575.3,411.1 575.7,415.5" fill="none" stroke="#1a1a1a" stroke-width="4.4" stroke-linecap="butt" stroke-linejoin="round"/><path d="M566,327 C566.3,329.1 567.2,334.7 567.7,339.1 C568.3,343.5 568.9,348.8 569.4,353.6 C569.9,358.4 570.3,362.3 570.9,368.1 C571.5,373.9 572.2,380.7 573,388.6 C573.9,396.5 575.3,411.1 575.7,415.5" fill="none" stroke="#b6b6b6" stroke-width="2.6000000000000005" stroke-linecap="butt" stroke-linejoin="round"/><path d="M557.8,332.8 C558.2,331.9 558.9,329.4 560,327 C561.1,324.7 563.4,321.3 564.6,318.6 C565.8,315.9 567.3,312.6 567.3,310.7 C567.3,308.9 565.5,307.8 564.6,307.5 C563.7,307.2 561.9,307.3 561.7,308.9 C561.5,310.6 562.6,314.4 563.6,317.4 C564.6,320.4 566.7,324.5 567.7,327 C568.8,329.6 569.5,331.9 569.9,332.8" fill="none" stroke="#1a1a1a" stroke-width="4.4" stroke-linecap="round" stroke-linejoin="round"/><path d="M557.8,332.8 C558.2,331.9 558.9,329.4 560,327 C561.1,324.7 563.4,321.3 564.6,318.6 C565.8,315.9 567.3,312.6 567.3,310.7 C567.3,308.9 565.5,307.8 564.6,307.5 C563.7,307.2 561.9,307.3 561.7,308.9 C561.5,310.6 562.6,314.4 563.6,317.4 C564.6,320.4 566.7,324.5 567.7,327 C568.8,329.6 569.5,331.9 569.9,332.8" fill="none" stroke="#b6b6b6" stroke-width="2.6000000000000005" stroke-linecap="round" stroke-linejoin="round"/><g transform="rotate(7 564 360.6)"><path d="M545,360.6 C545,358 553.5,357.1 564,357.1 C574.5,357.1 583,358 583,360.6 C583,363.2 574.5,364.1 564,364.1 C553.5,364.1 545,363.2 545,360.6Z" fill="#6a6a6a" stroke="#1a1a1a" stroke-width="1"/><rect x="559" y="357.2" width="10" height="6.8" fill="#8c8c8c"/><path d="M559,357.1 V364.1" stroke="#2a2a2a" stroke-width="1"/><path d="M562.2,357.1 V364.1" stroke="#2a2a2a" stroke-width="1"/><path d="M565.6,357.1 V364.1" stroke="#2a2a2a" stroke-width="1"/><path d="M569,357.1 V364.1" stroke="#2a2a2a" stroke-width="1"/></g></g>
<clipPath id="c2c"><rect x="560" y="130" width="182.4" height="414.5"/></clipPath><g clip-path="url(#c2c)"><path d="M699,177.6 C699.3,176 699.9,170.9 701,167.9 C702.1,165 703.7,162.3 705.6,159.8 C707.5,157.4 709,155.1 712.4,153.2 C715.9,151.4 720.7,150 726.4,148.7 C732.1,147.3 743.3,145.7 746.6,145.1 L746.6,145.1 L746.6,206 L699,206Z" fill="#eeeeee" stroke="none" stroke-width="1.26" /><path d="M699,177.6 C699.3,176 699.9,170.9 701,167.9 C702.1,165 703.7,162.3 705.6,159.8 C707.5,157.4 709,155.1 712.4,153.2 C715.9,151.4 720.7,150 726.4,148.7 C732.1,147.3 743.3,145.7 746.6,145.1" fill="none" stroke="#1a1a1a" stroke-width="1.26" /><path d="M699.8,174 C699.6,172.1 701,167.3 702.3,164.6 C703.5,161.9 705.7,159.3 707,158.1 C708.3,156.8 710,155.7 709.9,157.1 C709.8,158.4 707.4,162.9 706.3,166 C705.2,169.2 704.5,174.8 703.4,176.2 C702.3,177.5 700,175.9 699.8,174Z" fill="#fff" stroke="#1a1a1a" stroke-width="0.92" /><path d="M722.6,162.4 L731.4,161.9 L746.6,161.4 L746.6,201.9 L711.2,202.4 L713.2,185.7 L717.5,170.5Z" fill="#e0e0e0" stroke="none" stroke-width="1.26" /><path d="M720.8,162.9 C722.6,162.7 727.1,162.1 731.4,161.9 C735.7,161.6 744.1,161.4 746.6,161.4" fill="none" stroke="#1a1a1a" stroke-width="1.26" /><path d="M711.2,202.4 L746.6,201.6" fill="none" stroke="#1a1a1a" stroke-width="1.26" /><path d="M694.7,202.4 L746.6,202.4 L746.6,287.1 L694.7,287.1Z" fill="#ececec" stroke="none" stroke-width="1.26" /><path d="M695.3,246 L695.3,286.3 L746,286.3" fill="none" stroke="#1a1a1a" stroke-width="1.26" /><path d="M708,286.3 L746,286.3 L746,354 L726.4,367.9 L714.5,387.5 L708,388Z" fill="#e0e0e0" stroke="none" stroke-width="1.26" /><path d="M748,349 L723.9,371.1 Q716,379 712.1,385.5 C713.5,392 716.3,398.1 722.2,403.2 C727,404.8 732.3,401.2 742.5,390.5 L748,385 Z" fill="#eeeeee" stroke="#1a1a1a" stroke-width="1.26" stroke-linejoin="round"/><path d="M698.7,286.3 C698.5,293.6 698.2,312.6 697.5,330 C696.8,347.4 695.5,372.1 694.7,390.7 C694,409.3 693.4,423.7 693,441.4 C692.6,459.1 690.9,482.6 692.2,497 C693.5,511.4 696.1,520.3 701,527.5 C705.9,534.7 713.7,537.3 721.3,540.2 C728.9,543.1 742.5,544 746.7,544.7 L746.7,535.6 C742.1,534.2 725.6,532.6 718.8,527.5 C712,522.4 708.5,514.8 706,504.7 C703.5,494.6 703,483.6 703.6,466.7 C704.2,449.8 708.2,421.2 709.5,403.4 C710.8,385.6 711.1,372.2 711.2,360 C711.3,347.8 710.4,342.3 710,330 C709.6,317.7 708.9,293.6 708.7,286.3" fill="#b0b0b0" stroke="#1a1a1a" stroke-width="1.26" /><path d="M653.4,399.6 L693.4,399.6 L693.4,416 L655.4,407.9Z" fill="#8e8e8e" stroke="#1a1a1a" stroke-width="1.15" /><path d="M647.8,403.4 L654.1,408.4 L699.8,418.1 L700,432.8 L650.3,418.6Z" fill="#d2d2d2" stroke="#1a1a1a" stroke-width="1.15" /><path d="M693.2,441.3 L685.8,451.2 L685.8,464.5 L683.8,477.7 L675.1,501 L679.1,509.6 L692.6,490.3Z" fill="#b0b0b0" stroke="#1a1a1a" stroke-width="1.15" /><ellipse cx="716.7" cy="158.5" rx="8.2" ry="5" fill="#777" stroke="#1a1a1a" stroke-width="0.9" transform="rotate(-12 716.7 158.5)"/><path d="M710.4,158.8 C711.6,156.9 712.1,157.7 713.8,157.7 C715.6,157.7 720.1,157.7 720.8,158.8 C721.4,160 718.4,161.4 717.6,164.6 C716.8,167.8 717.8,175 716.1,177.9 C714.5,180.9 709.6,182.1 707.7,182.3 C705.9,182.4 705.3,181 705.1,178.8 C705,176.6 705.7,172.3 706.6,168.9 C707.5,165.6 709.1,160.7 710.4,158.8Z" fill="#333" stroke="#1a1a1a" stroke-width="1.03" /><path d="M681,251.5 C679.8,254.6 676.2,263.9 673.7,270 C671.2,276.1 668.3,281.8 666,288 C663.7,294.2 661.8,301.2 660,307.5 C658.2,313.8 656.8,319.8 655.5,326 C654.2,332.2 653.4,338.7 652.5,345 C651.6,351.3 650.5,358.2 650,364 C649.5,369.8 649.5,374 649.5,380 C649.5,386 649.7,393.3 650,400 C650.3,406.7 650.9,413.7 651.5,420 C652.1,426.3 652.7,432 653.5,438 C654.3,444 656,453 656.5,456" fill="none" stroke="#1a1a1a" stroke-width="3.9" stroke-linecap="butt" stroke-linejoin="round"/><path d="M681,251.5 C679.8,254.6 676.2,263.9 673.7,270 C671.2,276.1 668.3,281.8 666,288 C663.7,294.2 661.8,301.2 660,307.5 C658.2,313.8 656.8,319.8 655.5,326 C654.2,332.2 653.4,338.7 652.5,345 C651.6,351.3 650.5,358.2 650,364 C649.5,369.8 649.5,374 649.5,380 C649.5,386 649.7,393.3 650,400 C650.3,406.7 650.9,413.7 651.5,420 C652.1,426.3 652.7,432 653.5,438 C654.3,444 656,453 656.5,456" fill="none" stroke="#b4b4b4" stroke-width="2.3" stroke-linecap="butt" stroke-linejoin="round"/><path d="M684.3,254.5 C683.8,257.1 682.3,264.6 681.5,270 C680.7,275.4 679.9,282 679.5,287 C679.1,292 678.9,295.8 679.3,300 C679.7,304.2 680.9,308.2 682,312.4 C683.1,316.6 684.3,320.8 686,325 C687.7,329.2 691.2,335.6 692.2,337.7" fill="none" stroke="#1a1a1a" stroke-width="3.9" stroke-linecap="butt" stroke-linejoin="round"/><path d="M684.3,254.5 C683.8,257.1 682.3,264.6 681.5,270 C680.7,275.4 679.9,282 679.5,287 C679.1,292 678.9,295.8 679.3,300 C679.7,304.2 680.9,308.2 682,312.4 C683.1,316.6 684.3,320.8 686,325 C687.7,329.2 691.2,335.6 692.2,337.7" fill="none" stroke="#b4b4b4" stroke-width="2.3" stroke-linecap="butt" stroke-linejoin="round"/><path d="M654.3,455.2 L660.6,454.3 L666,481.5 L659.9,483.3Z" fill="#a8a8a8" stroke="#1a1a1a" stroke-width="1.15" /><path d="M662,483.1 L665.7,482 L666.8,485.7 L663.6,487.3Z" fill="#c0c0c0" stroke="#1a1a1a" stroke-width="0.92" /><path d="M662.8,488.1 C662.2,489.9 663.2,492.7 663.6,496.3 C664,499.9 664.6,505.2 665.5,509.6 C666.3,514 667.5,519.5 668.5,522.8 C669.6,526.2 670.8,528.1 671.8,529.7 C672.9,531.3 673.6,532.5 674.7,532.4 C675.9,532.3 677.5,530.8 678.5,529.2 C679.4,527.6 680.2,525 680.6,522.8 C681,520.7 681.3,519.2 680.8,516.2 C680.4,513.2 679.3,509.2 677.8,504.9 C676.3,500.6 673.6,493.6 671.8,490.3 C670.1,487.1 668.7,485.5 667.2,485.2 C665.7,484.8 663.4,486.2 662.8,488.1Z" fill="#a8a8a8" stroke="#1a1a1a" stroke-width="1.26" /><path d="M670.8,492.3 C670.3,492.3 671,500.5 671.3,504.3 C671.6,508 672,511.7 672.6,514.9 C673.3,518.1 674.7,523.4 675.3,523.4 C675.9,523.4 676.3,518.1 676.1,514.9 C675.9,511.7 675.1,508 674.2,504.3 C673.3,500.5 671.3,492.3 670.8,492.3Z" fill="#d8d8d8" stroke="#1a1a1a" stroke-width="0.92" /><g transform="rotate(-3 653.4 379.8)"><path d="M634.6,379.8 C634.6,377.1 643.1,376.2 653.4,376.2 C663.7,376.2 672.2,377.1 672.2,379.8 C672.2,382.5 663.7,383.4 653.4,383.4 C643.1,383.4 634.6,382.5 634.6,379.8Z" fill="#6a6a6a" stroke="#1a1a1a" stroke-width="1"/><rect x="648.4" y="376.3" width="10" height="7" fill="#8c8c8c"/><path d="M648.4,376.2 V383.4" stroke="#2a2a2a" stroke-width="1"/><path d="M651.6,376.2 V383.4" stroke="#2a2a2a" stroke-width="1"/><path d="M655,376.2 V383.4" stroke="#2a2a2a" stroke-width="1"/><path d="M658.4,376.2 V383.4" stroke="#2a2a2a" stroke-width="1"/></g><path d="M715.7,177.9 C716.6,179.6 714.7,187.6 713.8,192.1 C713,196.6 711.9,201 710.6,205.1 C709.3,209.2 707.5,213.7 706,216.7 C704.6,219.6 703.4,221.6 702,222.8 C700.5,223.9 698.6,223.8 697.3,223.6 C696.1,223.5 694.3,224.4 694.4,221.8 C694.5,219.1 696.4,213 697.9,208 C699.4,203.1 701.6,196.4 703.4,192.1 C705.2,187.7 706.4,184.3 708.5,182 C710.5,179.6 714.8,176.2 715.7,177.9Z" fill="#333" stroke="#1a1a1a" stroke-width="1.03" /><path d="M678.8,186.6 C679.1,184.8 679.5,184 680.3,183.1 C681,182.2 682.4,181.1 683.9,180.5 C685.4,180 688.8,179.2 690.4,179.4 C692,179.5 693.6,180.6 694.7,181.2 C695.9,181.9 696,183.8 697.9,183.7 C699.9,183.6 705.1,181.5 707.7,180.5 C710.4,179.6 715.2,177.1 715.3,177.3 C715.4,177.6 710.3,180.3 708.5,182.3 C706.7,184.2 704.9,187.3 703.4,190.6 C702,194 700.1,199.6 698.8,204.4 C697.4,209.2 695,218.5 694.4,222.5 C693.8,226.5 694.9,228.6 694.7,231.2 C694.6,233.8 694.3,237.7 693.6,239.8 C692.8,242 691.1,244.4 689.7,245.3 C688.2,246.3 685.7,246.6 683.9,246.4 C682,246.1 678.9,244.4 677.4,243.5 C675.8,242.5 674.4,241.5 673.7,239.8 C673.1,238.2 673.2,234.8 673.3,232.6 C673.5,230.4 674.5,227.4 674.8,225.4 C675,223.3 675.7,220.7 675,218.9 C674.4,217 671.2,214.5 670.4,213.1 C669.6,211.6 669.6,210.4 669.8,209.2 C670.1,208 670.7,206.1 671.9,205.1 C673,204.1 676.4,204 677.4,202.5 C678.3,201 678,197.4 678.2,195 C678.4,192.6 678.5,188.4 678.8,186.6Z" fill="#676767" stroke="#1a1a1a" stroke-width="1.26" stroke-linejoin="round"/><path d="M683.9,180.8 C684,180.5 688.6,179.5 690.4,179.6 C692.2,179.8 693.6,181 694.7,181.7 C695.9,182.3 697.3,183.4 697.3,183.7 C697.3,184 696,183.7 694.7,183.4 C693.4,183.1 691.5,182.1 689.7,181.7 C687.9,181.2 683.8,181.1 683.9,180.8Z" fill="#b5b5b5" stroke="#1a1a1a" stroke-width="0.69" /><circle cx="684.9" cy="188.5" r="5.5" fill="#707070" stroke="#1a1a1a" stroke-width="0.9"/><circle cx="684.9" cy="188.5" r="3.8" fill="#adadad" stroke="#1a1a1a" stroke-width="0.8"/><circle cx="675.6" cy="211.2" r="5.6" fill="#707070" stroke="#1a1a1a" stroke-width="0.9"/><circle cx="675.6" cy="211.2" r="3.9" fill="#adadad" stroke="#1a1a1a" stroke-width="0.8"/><path d="M683.2,196.4 L693.6,199" fill="none" stroke="#1a1a1a" stroke-width="1.03" /><path d="M681.7,205.4 L688.9,208" fill="none" stroke="#1a1a1a" stroke-width="1.03" /><path d="M683.2,196.4 L681.7,205.4" fill="none" stroke="#1a1a1a" stroke-width="0.8" /><path d="M677.4,202.5 L681.7,200.8 L680.3,195" fill="#999" stroke="#1a1a1a" stroke-width="0.69" /><ellipse cx="685.8" cy="215" rx="2.3" ry="1.2" fill="#8a8a8a" stroke="#1a1a1a" stroke-width="0.6" transform="rotate(15 685.8 215)"/><ellipse cx="683.2" cy="220" rx="2.1" ry="1.1" fill="#fff" stroke="#1a1a1a" stroke-width="0.5" transform="rotate(15 683.2 220)"/><path d="M714.7,177.9 C713.5,178.8 709.8,180.6 707.7,183.4 C705.7,186.3 704.3,190.9 702.7,195 C701,199.1 699.2,203.7 697.9,208 C696.6,212.3 695.3,218.9 694.7,221" fill="none" stroke="#1a1a1a" stroke-width="0.92" /><ellipse cx="686.2" cy="232.6" rx="3.1" ry="2.5" fill="#fff" stroke="#1a1a1a" stroke-width="0.8" transform="rotate(-30 686.2 232.6)"/><path d="M693.3,238.6 C693.4,239.7 694.3,243.1 694.3,245.3 C694.3,247.6 694.2,250.5 693.3,252.1 C692.4,253.6 690.5,254.5 688.9,254.8 C687.4,255 685.4,254.3 684.1,253.5 C682.8,252.8 681.5,250.9 681,250.3" fill="none" stroke="#1a1a1a" stroke-width="3.3" stroke-linecap="round" stroke-linejoin="round"/><path d="M693.3,238.6 C693.4,239.7 694.3,243.1 694.3,245.3 C694.3,247.6 694.2,250.5 693.3,252.1 C692.4,253.6 690.5,254.5 688.9,254.8 C687.4,255 685.4,254.3 684.1,253.5 C682.8,252.8 681.5,250.9 681,250.3" fill="none" stroke="#b4b4b4" stroke-width="1.7999999999999998" stroke-linecap="round" stroke-linejoin="round"/><path d="M697.8,224.6 C697.2,226 695.4,230.4 694.2,232.8 C693,235.1 691.3,237.8 690.7,238.8" fill="none" stroke="#1a1a1a" stroke-width="3.5" stroke-linecap="butt" stroke-linejoin="round"/><path d="M697.8,224.6 C697.2,226 695.4,230.4 694.2,232.8 C693,235.1 691.3,237.8 690.7,238.8" fill="none" stroke="#f2f2f2" stroke-width="2.0" stroke-linecap="butt" stroke-linejoin="round"/><path d="M685.3,235.9 C685.9,235.5 687.5,234.4 688.9,233.8 C690.4,233.1 692.3,232 693.9,231.8 C695.6,231.6 697.4,231.7 698.6,232.6 C699.8,233.5 701.4,235.3 701.3,237.1 C701.2,238.9 699.8,241.5 698.1,243.4 C696.4,245.3 693.2,247.5 690.9,248.7 C688.5,249.9 685.8,250.6 684.1,250.6 C682.4,250.6 681.3,249 680.7,248.7" fill="none" stroke="#1a1a1a" stroke-width="3.3" stroke-linecap="round" stroke-linejoin="round"/><path d="M685.3,235.9 C685.9,235.5 687.5,234.4 688.9,233.8 C690.4,233.1 692.3,232 693.9,231.8 C695.6,231.6 697.4,231.7 698.6,232.6 C699.8,233.5 701.4,235.3 701.3,237.1 C701.2,238.9 699.8,241.5 698.1,243.4 C696.4,245.3 693.2,247.5 690.9,248.7 C688.5,249.9 685.8,250.6 684.1,250.6 C682.4,250.6 681.3,249 680.7,248.7" fill="none" stroke="#b4b4b4" stroke-width="1.7999999999999998" stroke-linecap="round" stroke-linejoin="round"/></g><path d="M648.3,314.5 L652.8,298.6 L656.1,299.5 L654,287.5 L646,296.7 L649.3,297.6 L644.9,313.5Z" fill="#111"/><path d="M687.8,290.5 L687.8,307.5 L684.4,307.5 L689.6,318.5 L694.9,307.5 L691.4,307.5 L691.4,290.5Z" fill="#111"/><clipPath id="c2d"><rect x="745" y="130" width="109" height="416"/></clipPath><g clip-path="url(#c2d)"><path d="M788,198.3 C788,194.9 787.6,183.5 788,178 C788.4,172.6 789,169.1 790.5,165.4 C792,161.7 793.5,158.4 796.8,155.8 C800.2,153.1 805.1,151.3 810.8,149.7 C816.5,148.1 823,146.9 831,146.1 C839,145.4 854.2,145.3 858.9,145.1 L858.9,205.9 L788,205.9Z" fill="#eeeeee" stroke="none" stroke-width="1.26" /><path d="M788,198.3 C788,194.9 787.6,183.5 788,178 C788.4,172.6 789,169.1 790.5,165.4 C792,161.7 793.5,158.4 796.8,155.8 C800.2,153.1 805.1,151.3 810.8,149.7 C816.5,148.1 823,146.9 831,146.1 C839,145.4 854.2,145.3 858.9,145.1" fill="none" stroke="#1a1a1a" stroke-width="1.26" /><path d="M788.5,195.8 C787.9,192 788.9,178.9 790,173 C791.1,167.1 793.7,162.4 795.1,160.3 C796.4,158.2 798.2,157.8 798.1,160.3 C798,162.8 795.1,169.6 794.3,175.5 C793.5,181.4 794.5,192.4 793.5,195.8 C792.6,199.1 789.1,199.6 788.5,195.8Z" fill="#fff" stroke="#1a1a1a" stroke-width="0.92" /><path d="M804.4,164.9 C805.9,164.3 809.7,162.3 813.3,161.6 C816.9,160.8 821.3,160.2 825.9,160.3 C830.6,160.4 835.7,161.1 841.1,162.3 C846.6,163.6 855.9,167 858.9,167.9 L858.9,201.8 L806.2,202.3Z" fill="#e0e0e0" stroke="none" stroke-width="1.26" /><path d="M804.4,164.9 C805.9,164.3 809.7,162.3 813.3,161.6 C816.9,160.8 821.3,160.2 825.9,160.3 C830.6,160.4 835.7,161.1 841.1,162.3 C846.6,163.6 855.9,167 858.9,167.9" fill="none" stroke="#1a1a1a" stroke-width="1.26" /><path d="M806.2,202.3 L858.9,201.3" fill="none" stroke="#1a1a1a" stroke-width="1.26" /><path d="M790.5,202.3 L858.9,201.8 L858.9,285.9 L790.5,286.4Z" fill="#ececec" stroke="none" stroke-width="1.26" /><path d="M790.5,262 L790.5,286.3 L860,286.3" fill="none" stroke="#1a1a1a" stroke-width="1.26" /><path d="M797,286.3 L860,286.3 L860,325 L826.3,356.5 L800.5,385 L797,388Z" fill="#e0e0e0" stroke="none" stroke-width="1.26" /><path d="M777.2,391 L830.3,393 L827.6,408.2 L800,404Z" fill="#8e8e8e" stroke="#1a1a1a" stroke-width="1.15" /><path d="M860,325 C855.5,329.2 834.2,348.5 826.3,356.5 C818.4,364.5 804,380.8 800.5,385 C797,389.2 799.3,386.1 799.8,388 C800.3,389.9 803,397 804.4,399 C805.8,401 808.2,402.5 810.4,402.7 C812.6,402.9 818.3,401.7 821,400.3 C823.7,398.9 825.1,398.6 830.3,392.3 C835.5,386 856,358.2 860,353Z" fill="#eeeeee" stroke="#1a1a1a" stroke-width="1.26" /><path d="M787.5,286.3 C787.2,293.6 786.9,311.1 786,330 C785.1,348.9 782.9,381.4 781.9,400 C780.9,418.6 780.5,425.2 780.3,441.4 C780.1,457.6 779.2,483.1 780.5,497 C781.8,510.9 783.8,518.2 788,525 C792.2,531.8 800.5,534.7 806,538 C811.5,541.3 818.5,543.7 821,544.8 L857,537 L857,533.9 C852.7,534.1 839.3,536.2 831.2,535.1 C823.1,534 814.3,532.6 808.4,527.5 C802.5,522.4 798.2,514.8 795.7,504.7 C793.2,494.6 793.3,479.1 793.2,466.7 C793.1,454.2 794.5,443.5 795.3,430 C796.1,416.5 797.2,399.9 797.8,385.7 C798.3,371.5 798.6,361.6 798.6,345 C798.6,328.4 798.1,296.1 798,286.3" fill="#b0b0b0" stroke="#1a1a1a" stroke-width="1.26" stroke-linejoin="round"/><path d="M772.6,397 L777.2,400.3 L825,409.6 L823.7,426.8 L773.3,409.6Z" fill="#d2d2d2" stroke="#1a1a1a" stroke-width="1.15" /><path d="M788,262 C787.7,265 786.8,273.7 786,280 C785.2,286.3 784.6,290 783.5,300 C782.4,310 780.6,328.3 779.5,340 C778.4,351.7 777.6,360.5 777,370 C776.4,379.5 775.9,392.5 775.7,397" fill="none" stroke="#1a1a1a" stroke-width="3.6" stroke-linecap="butt" stroke-linejoin="round"/><path d="M788,262 C787.7,265 786.8,273.7 786,280 C785.2,286.3 784.6,290 783.5,300 C782.4,310 780.6,328.3 779.5,340 C778.4,351.7 777.6,360.5 777,370 C776.4,379.5 775.9,392.5 775.7,397" fill="none" stroke="#b4b4b4" stroke-width="2.0" stroke-linecap="butt" stroke-linejoin="round"/><path d="M791,263 C790.6,266.7 789.5,277.7 788.5,285 C787.5,292.3 785.6,299.5 785,307 C784.4,314.5 784.1,323.9 785,330 C785.9,336.1 788.3,339.1 790.5,343.3 C792.7,347.5 796.8,353.1 798,355" fill="none" stroke="#1a1a1a" stroke-width="3.2" stroke-linecap="butt" stroke-linejoin="round"/><path d="M791,263 C790.6,266.7 789.5,277.7 788.5,285 C787.5,292.3 785.6,299.5 785,307 C784.4,314.5 784.1,323.9 785,330 C785.9,336.1 788.3,339.1 790.5,343.3 C792.7,347.5 796.8,353.1 798,355" fill="none" stroke="#b4b4b4" stroke-width="1.6" stroke-linecap="butt" stroke-linejoin="round"/><path d="M771.6,413.5 L778.2,414.5 L776.9,441.4 L770.1,440.1Z" fill="#a8a8a8" stroke="#1a1a1a" stroke-width="1.15" /><path d="M780.5,441.4 L777.4,466.7 L772.9,492.1 L756.4,518.9 L764.8,514.9 L780.5,489.5Z" fill="#b0b0b0" stroke="#1a1a1a" stroke-width="1.15" /><path d="M771.4,445.9 C769.7,448.6 767.8,456.3 766.3,461.6 C764.8,467 762.7,473.5 762.2,478.1 C761.7,482.8 762.4,487.1 763.2,489.5 C764.1,491.9 765.8,492.8 767.3,492.6 C768.8,492.3 770.8,492.1 772.4,488.3 C774,484.4 775.9,475.4 776.9,469.2 C777.9,463.1 778.5,455.5 778.5,451.5 C778.4,447.5 777.6,446.4 776.4,445.4 C775.2,444.5 773,443.2 771.4,445.9Z" fill="#a8a8a8" stroke="#1a1a1a" stroke-width="1.26" /><path d="M771.4,454.5 C770.7,455 769.1,466.6 768.3,471.8 C767.6,477 766.5,483.6 766.8,485.7 C767,487.8 768.9,487.2 769.8,484.5 C770.8,481.7 772.1,474.2 772.4,469.2 C772.6,464.3 772,454.1 771.4,454.5Z" fill="#d8d8d8" stroke="#1a1a1a" stroke-width="0.92" /><g transform="rotate(-3 783 297.5)"><path d="M764.2,297.5 C764.2,294.8 772.7,293.9 783,293.9 C793.3,293.9 801.8,294.8 801.8,297.5 C801.8,300.2 793.3,301.1 783,301.1 C772.7,301.1 764.2,300.2 764.2,297.5Z" fill="#6a6a6a" stroke="#1a1a1a" stroke-width="1"/><rect x="778" y="294" width="10" height="7" fill="#8c8c8c"/><path d="M778,293.9 V301.1" stroke="#2a2a2a" stroke-width="1"/><path d="M781.2,293.9 V301.1" stroke="#2a2a2a" stroke-width="1"/><path d="M784.6,293.9 V301.1" stroke="#2a2a2a" stroke-width="1"/><path d="M788,293.9 V301.1" stroke="#2a2a2a" stroke-width="1"/></g><ellipse cx="802.5" cy="158.5" rx="8" ry="5" fill="#777" stroke="#1a1a1a" stroke-width="0.9" transform="rotate(-15 802.5 158.5)"/><path d="M795.6,161.8 C796.7,159.5 798.8,160 800.6,159.8 C802.5,159.6 806.3,159.1 806.7,160.8 C807.1,162.6 803.7,166.6 803.2,170.4 C802.7,174.3 803.2,180.7 803.7,183.9 C804.1,187.1 806.9,187.9 805.7,189.7 C804.5,191.5 798.5,195.2 796.6,194.7 C794.6,194.3 794.5,190.7 794.1,187.2 C793.6,183.6 793.5,178 793.8,173.7 C794.1,169.5 794.4,164.2 795.6,161.8Z" fill="#333" stroke="#1a1a1a" stroke-width="1.03" /><g transform="translate(92.4,18.1) rotate(-11.7 684.9 188.5)"><path d="M715.7,177.9 C716.6,179.6 714.7,187.6 713.8,192.1 C713,196.6 711.9,201 710.6,205.1 C709.3,209.2 707.5,213.7 706,216.7 C704.6,219.6 703.4,221.6 702,222.8 C700.5,223.9 698.6,223.8 697.3,223.6 C696.1,223.5 694.3,224.4 694.4,221.8 C694.5,219.1 696.4,213 697.9,208 C699.4,203.1 701.6,196.4 703.4,192.1 C705.2,187.7 706.4,184.3 708.5,182 C710.5,179.6 714.8,176.2 715.7,177.9Z" fill="#333" stroke="#1a1a1a" stroke-width="1.03" /><path d="M678.8,186.6 C679.1,184.8 679.5,184 680.3,183.1 C681,182.2 682.4,181.1 683.9,180.5 C685.4,180 688.8,179.2 690.4,179.4 C692,179.5 693.6,180.6 694.7,181.2 C695.9,181.9 696,183.8 697.9,183.7 C699.9,183.6 705.1,181.5 707.7,180.5 C710.4,179.6 715.2,177.1 715.3,177.3 C715.4,177.6 710.3,180.3 708.5,182.3 C706.7,184.2 704.9,187.3 703.4,190.6 C702,194 700.1,199.6 698.8,204.4 C697.4,209.2 695,218.5 694.4,222.5 C693.8,226.5 694.9,228.6 694.7,231.2 C694.6,233.8 694.3,237.7 693.6,239.8 C692.8,242 691.1,244.4 689.7,245.3 C688.2,246.3 685.7,246.6 683.9,246.4 C682,246.1 678.9,244.4 677.4,243.5 C675.8,242.5 674.4,241.5 673.7,239.8 C673.1,238.2 673.2,234.8 673.3,232.6 C673.5,230.4 674.5,227.4 674.8,225.4 C675,223.3 675.7,220.7 675,218.9 C674.4,217 671.2,214.5 670.4,213.1 C669.6,211.6 669.6,210.4 669.8,209.2 C670.1,208 670.7,206.1 671.9,205.1 C673,204.1 676.4,204 677.4,202.5 C678.3,201 678,197.4 678.2,195 C678.4,192.6 678.5,188.4 678.8,186.6Z" fill="#676767" stroke="#1a1a1a" stroke-width="1.26" stroke-linejoin="round"/><path d="M683.9,180.8 C684,180.5 688.6,179.5 690.4,179.6 C692.2,179.8 693.6,181 694.7,181.7 C695.9,182.3 697.3,183.4 697.3,183.7 C697.3,184 696,183.7 694.7,183.4 C693.4,183.1 691.5,182.1 689.7,181.7 C687.9,181.2 683.8,181.1 683.9,180.8Z" fill="#b5b5b5" stroke="#1a1a1a" stroke-width="0.69" /><circle cx="684.9" cy="188.5" r="5.5" fill="#707070" stroke="#1a1a1a" stroke-width="0.9"/><circle cx="684.9" cy="188.5" r="3.8" fill="#adadad" stroke="#1a1a1a" stroke-width="0.8"/><circle cx="675.6" cy="211.2" r="5.6" fill="#707070" stroke="#1a1a1a" stroke-width="0.9"/><circle cx="675.6" cy="211.2" r="3.9" fill="#adadad" stroke="#1a1a1a" stroke-width="0.8"/><path d="M683.2,196.4 L693.6,199" fill="none" stroke="#1a1a1a" stroke-width="1.03" /><path d="M681.7,205.4 L688.9,208" fill="none" stroke="#1a1a1a" stroke-width="1.03" /><path d="M683.2,196.4 L681.7,205.4" fill="none" stroke="#1a1a1a" stroke-width="0.8" /><path d="M677.4,202.5 L681.7,200.8 L680.3,195" fill="#999" stroke="#1a1a1a" stroke-width="0.69" /><ellipse cx="685.8" cy="215" rx="2.3" ry="1.2" fill="#8a8a8a" stroke="#1a1a1a" stroke-width="0.6" transform="rotate(15 685.8 215)"/><ellipse cx="683.2" cy="220" rx="2.1" ry="1.1" fill="#fff" stroke="#1a1a1a" stroke-width="0.5" transform="rotate(15 683.2 220)"/><path d="M714.7,177.9 C713.5,178.8 709.8,180.6 707.7,183.4 C705.7,186.3 704.3,190.9 702.7,195 C701,199.1 699.2,203.7 697.9,208 C696.6,212.3 695.3,218.9 694.7,221" fill="none" stroke="#1a1a1a" stroke-width="0.92" /></g><ellipse cx="787.5" cy="252" rx="3" ry="3.8" fill="#fff" stroke="#1a1a1a" stroke-width="0.8" transform="rotate(25 787.5 252)"/><path d="M798.6,238.8 C797.8,240.9 795.3,248.5 793.5,251.5 C791.8,254.4 788.9,255.7 788,256.5" fill="none" stroke="#1a1a1a" stroke-width="3.6" stroke-linecap="butt" stroke-linejoin="round"/><path d="M798.6,238.8 C797.8,240.9 795.3,248.5 793.5,251.5 C791.8,254.4 788.9,255.7 788,256.5" fill="none" stroke="#f0f0f0" stroke-width="2.0" stroke-linecap="butt" stroke-linejoin="round"/><path d="M795.6,252 C795.2,253.6 795,259.3 793.5,261.6 C792.1,263.8 788.3,265.4 786.7,265.4 C785.1,265.4 784.6,262.2 784.2,261.6" fill="none" stroke="#1a1a1a" stroke-width="2.8" stroke-linecap="round" stroke-linejoin="round"/><path d="M795.6,252 C795.2,253.6 795,259.3 793.5,261.6 C792.1,263.8 788.3,265.4 786.7,265.4 C785.1,265.4 784.6,262.2 784.2,261.6" fill="none" stroke="#b4b4b4" stroke-width="1.1999999999999997" stroke-linecap="round" stroke-linejoin="round"/></g><path d="M912.3,203.5 L912.3,283.7" fill="none" stroke="#555" stroke-width="4.2" stroke-linecap="butt" stroke-linejoin="round"/><path d="M912.3,203.5 L912.3,283.7" fill="none" stroke="#c4c4c4" stroke-width="2.2" stroke-linecap="butt" stroke-linejoin="round"/><path d="M931.8,203.5 C931.9,205.3 932,210.9 932.2,214.3 C932.3,217.7 932.8,220.8 932.7,224 C932.5,227.2 932.2,230.9 931.2,233.6 C930.3,236.3 929,238.7 927,240.3 C925,241.9 921.9,242.4 919.1,243.3 C916.4,244.2 912.8,244.4 910.7,245.7 C908.6,247 907.1,249.1 906.5,251.1 C905.9,253.2 906.2,255.9 907.1,257.8 C908,259.7 909.9,261.5 911.9,262.4 C913.9,263.3 916.1,264 919.1,263.2 C922.2,262.4 926.6,260.1 930,257.8 C933.4,255.5 937.1,252.3 939.7,249.3 C942.3,246.3 944.5,242.7 945.7,239.7 C946.9,236.7 947.3,233.5 946.7,231.2 C946.1,229 944.1,227.2 942.1,226.1 C940.1,225.1 937.1,224.7 934.8,225.2 C932.6,225.6 930.1,227 928.6,228.8 C927,230.6 925.9,233.2 925.4,236 C925,238.9 925.3,241.9 925.8,245.7 C926.2,249.5 927.1,252.6 928.2,259 C929.3,265.3 931.7,279.6 932.4,283.7" fill="none" stroke="#555" stroke-width="4.2" stroke-linecap="butt" stroke-linejoin="round"/><path d="M931.8,203.5 C931.9,205.3 932,210.9 932.2,214.3 C932.3,217.7 932.8,220.8 932.7,224 C932.5,227.2 932.2,230.9 931.2,233.6 C930.3,236.3 929,238.7 927,240.3 C925,241.9 921.9,242.4 919.1,243.3 C916.4,244.2 912.8,244.4 910.7,245.7 C908.6,247 907.1,249.1 906.5,251.1 C905.9,253.2 906.2,255.9 907.1,257.8 C908,259.7 909.9,261.5 911.9,262.4 C913.9,263.3 916.1,264 919.1,263.2 C922.2,262.4 926.6,260.1 930,257.8 C933.4,255.5 937.1,252.3 939.7,249.3 C942.3,246.3 944.5,242.7 945.7,239.7 C946.9,236.7 947.3,233.5 946.7,231.2 C946.1,229 944.1,227.2 942.1,226.1 C940.1,225.1 937.1,224.7 934.8,225.2 C932.6,225.6 930.1,227 928.6,228.8 C927,230.6 925.9,233.2 925.4,236 C925,238.9 925.3,241.9 925.8,245.7 C926.2,249.5 927.1,252.6 928.2,259 C929.3,265.3 931.7,279.6 932.4,283.7" fill="none" stroke="#c4c4c4" stroke-width="2.2" stroke-linecap="butt" stroke-linejoin="round"/><rect x="908.3" y="200" width="29.6" height="4.4" fill="#fff" stroke="#d8d8d8" stroke-width="0.8"/><rect x="908.3" y="282.5" width="29.6" height="4.4" fill="#fff" stroke="#d8d8d8" stroke-width="0.8"/><g transform="translate(373.2,84)"><path d="M529.3,254 Q530,251 533.5,250.4 L545,247.2 L556,240.6 L562,238.4 C567,236.2 574.5,236.8 578,243 C580.8,248 581,253 580.4,257 L580.4,293 C577,297 576.2,303 577.4,309 C578.6,313 580.2,316 580.2,320 C580.2,325 577.6,329.3 573.6,329.6 C570,330 566,328.5 563,326.5 C556,323 552.5,321 550,318 C546,313.5 545.5,310 546.5,307 C548,303 550,301.5 549.3,299 C549,296.8 547.5,295.8 546.6,295.6 L527,289.2 C523,287.8 521.4,285.2 522.2,282.8 Z" fill="#676767" stroke="#1a1a1a" stroke-width="1.38" stroke-linejoin="round"/><ellipse cx="565.6" cy="309" rx="7" ry="8.2" fill="#8f8f8f" stroke="#1a1a1a" stroke-width="0.9"/><ellipse cx="564.6" cy="309" rx="5.2" ry="6.8" fill="#fff" stroke="#1a1a1a" stroke-width="0.8"/><path d="M540,255.2 L556.8,260 L556.8,267.5 L541,263.8 Z" fill="#b9b9b9" stroke="#1a1a1a" stroke-width="0.92" /><path d="M541.5,266.5 C546,263.5 552,266 556.8,270.5 L556.8,276.5 C552,272 547,268.8 541.5,266.5Z" fill="#b0b0b0" stroke="#1a1a1a" stroke-width="0.92" /><circle cx="536.2" cy="259.4" r="4.9" fill="#adadad" stroke="#1a1a1a" stroke-width="1"/><circle cx="533.1" cy="271.7" r="2.2" fill="#c2c2c2" stroke="#1a1a1a" stroke-width="0.8"/><path d="M541.4,269.4 L551.4,274 L550.2,276.2 L540.4,271.6 Z" fill="#bdbdbd" stroke="#1a1a1a" stroke-width="0.8" /><ellipse cx="569.6" cy="249.6" rx="5" ry="5.6" fill="#fff" stroke="#1a1a1a" stroke-width="1"/><ellipse cx="556.2" cy="250.6" rx="2" ry="2.6" fill="#fff" stroke="#1a1a1a" stroke-width="0.6"/><path d="M561.2,257 L575.6,257 C573.5,260.5 573.5,263.5 575.6,267 L561.2,267 C563,263.5 563,260.5 561.2,257Z" fill="#bcbcbc" stroke="#1a1a1a" stroke-width="0.92" /><path d="M561.2,283.6 L575.6,283.6 C573.5,287 573.5,290 575.6,293.4 L561.2,293.4 C563,290 563,287 561.2,283.6Z" fill="#bcbcbc" stroke="#1a1a1a" stroke-width="0.92" /><path d="M560,267.2 C566,266 572,268 578.6,269 L578.6,281.6 C572,282.6 566,284.6 560,283.4Z" fill="#707070" stroke="#1a1a1a" stroke-width="0.92" /><path d="M556.6,255.4 H560 V293.4 H556.6Z" fill="#676767" stroke="#1a1a1a" stroke-width="1.03" /><path d="M576.4,255.4 H579.2 V296 H576.4Z" fill="#676767" stroke="#1a1a1a" stroke-width="1.03" /><ellipse cx="581.4" cy="261.4" rx="1.4" ry="3.6" fill="#8a8a8a" stroke="#1a1a1a" stroke-width="0.7"/><ellipse cx="580.2" cy="288.6" rx="1.4" ry="3.6" fill="#8a8a8a" stroke="#1a1a1a" stroke-width="0.7"/><ellipse cx="569.6" cy="294.4" rx="1.2" ry="0.9" fill="#999" stroke="#1a1a1a" stroke-width="0.5"/><path d="M556.2,226.7 L555.9,227.4 L555.7,228.2 L555.8,228.9 L556.2,229.6 L556.6,230.4 L556.9,231.1 L556.9,231.8 L556.6,232.6 L556.2,233.3 L555.9,234.1 L556,234.8 L556.3,235.5 L556.7,236.3 L557,237 L557.1,237.7 L556.9,238.5 L556.5,239.2 L556.2,240 L556.1,240.7 L556.3,241.4 L556.7,242.2 L557.1,242.9 L557.3,243.6 L557.2,244.4 L556.9,245.1 L556.5,245.9 L556.3,246.6 L556.4,247.3 L556.8,248.1 L557.2,248.8 L557.5,249.5 L557.5,250.3 L557.3,251 L556.9,251.8 L556.6,252.5 L556.6,253.2 L556.8,254 L557.2,254.7 L557.6,255.4 L557.8,256.2 L568.1,255.8 L568,255.1 L567.6,254.3 L567.2,253.6 L567,252.9 L567,252.2 L567.3,251.4 L567.7,250.7 L567.9,249.9 L567.9,249.2 L567.6,248.4 L567.2,247.7 L566.8,247 L566.7,246.3 L566.9,245.5 L567.3,244.8 L567.6,244 L567.7,243.3 L567.5,242.5 L567.1,241.8 L566.7,241.1 L566.5,240.4 L566.6,239.6 L566.9,238.9 L567.3,238.1 L567.5,237.4 L567.4,236.6 L567.1,235.9 L566.7,235.2 L566.4,234.5 L566.3,233.7 L566.6,233 L567,232.2 L567.2,231.5 L567.3,230.7 L567,230 L566.6,229.3 L566.2,228.6 L566.1,227.8 L566.2,227.1 L566.6,226.3Z" fill="#333" stroke="#1a1a1a" stroke-width="0.92" stroke-linejoin="round"/></g><path d="M935.5,410.4 C935.4,412.6 934.8,418.9 934.9,423.1 C935.1,427.3 936.1,432.4 936.6,435.8 C937.2,439.2 937.9,442.3 938.2,443.6" fill="none" stroke="#1a1a1a" stroke-width="4.2" stroke-linecap="butt" stroke-linejoin="round"/><path d="M935.5,410.4 C935.4,412.6 934.8,418.9 934.9,423.1 C935.1,427.3 936.1,432.4 936.6,435.8 C937.2,439.2 937.9,442.3 938.2,443.6" fill="none" stroke="#b4b4b4" stroke-width="2.4000000000000004" stroke-linecap="butt" stroke-linejoin="round"/><path d="M938.6,411.7 C938.8,413.8 939.9,420.3 940,424.3 C940.2,428.4 939.7,432.6 939.5,435.8 C939.4,439 939.1,442.3 939,443.6" fill="none" stroke="#1a1a1a" stroke-width="4.2" stroke-linecap="butt" stroke-linejoin="round"/><path d="M938.6,411.7 C938.8,413.8 939.9,420.3 940,424.3 C940.2,428.4 939.7,432.6 939.5,435.8 C939.4,439 939.1,442.3 939,443.6" fill="none" stroke="#b4b4b4" stroke-width="2.4000000000000004" stroke-linecap="butt" stroke-linejoin="round"/><path d="M930.2,417.2 C930.6,416.2 931.3,413.8 932.4,411.4 C933.5,409 935.8,405.7 937,403 C938.2,400.2 939.6,397 939.6,395.1 C939.6,393.3 937.9,392.2 937,391.9 C936.1,391.6 934.3,391.7 934.1,393.3 C933.9,395 935,398.7 936,401.8 C937,404.8 939.1,408.8 940.1,411.4 C941.2,414 941.9,416.2 942.3,417.2" fill="none" stroke="#1a1a1a" stroke-width="4.4" stroke-linecap="round" stroke-linejoin="round"/><path d="M930.2,417.2 C930.6,416.2 931.3,413.8 932.4,411.4 C933.5,409 935.8,405.7 937,403 C938.2,400.2 939.6,397 939.6,395.1 C939.6,393.3 937.9,392.2 937,391.9 C936.1,391.6 934.3,391.7 934.1,393.3 C933.9,395 935,398.7 936,401.8 C937,404.8 939.1,408.8 940.1,411.4 C941.2,414 941.9,416.2 942.3,417.2" fill="none" stroke="#b4b4b4" stroke-width="2.6000000000000005" stroke-linecap="round" stroke-linejoin="round"/><g transform="rotate(0 938.6 438.8)"><path d="M919.9,438.8 C919.9,436.2 928.3,435.3 938.6,435.3 C948.9,435.3 957.3,436.2 957.3,438.8 C957.3,441.4 948.9,442.3 938.6,442.3 C928.3,442.3 919.9,441.4 919.9,438.8Z" fill="#6a6a6a" stroke="#1a1a1a" stroke-width="1"/><rect x="933.6" y="435.4" width="10" height="6.8" fill="#8c8c8c"/><path d="M933.6,435.3 V442.3" stroke="#2a2a2a" stroke-width="1"/><path d="M936.8,435.3 V442.3" stroke="#2a2a2a" stroke-width="1"/><path d="M940.2,435.3 V442.3" stroke="#2a2a2a" stroke-width="1"/><path d="M943.6,435.3 V442.3" stroke="#2a2a2a" stroke-width="1"/></g><path d="M941.8,454.5 C942.1,455.7 943.1,458.9 943.6,461.8 C944.2,464.6 944.7,466.4 945.1,471.4 C945.5,476.4 945.9,488.5 946,491.9" fill="none" stroke="#1a1a1a" stroke-width="4.0" stroke-linecap="butt" stroke-linejoin="round"/><path d="M941.8,454.5 C942.1,455.7 943.1,458.9 943.6,461.8 C944.2,464.6 944.7,466.4 945.1,471.4 C945.5,476.4 945.9,488.5 946,491.9" fill="none" stroke="#b4b4b4" stroke-width="2.3" stroke-linecap="butt" stroke-linejoin="round"/><path d="M942.7,456 L951.4,464.9" fill="none" stroke="#1a1a1a" stroke-width="4.0" stroke-linecap="butt" stroke-linejoin="round"/><path d="M942.7,456 L951.4,464.9" fill="none" stroke="#b4b4b4" stroke-width="2.3" stroke-linecap="butt" stroke-linejoin="round"/><path d="M938.8,442.9 C938.2,443.2 935.9,443.7 935.2,444.9 C934.5,446 934.1,448.3 934.7,449.7 C935.3,451.1 937.1,452.7 938.8,453.3 C940.5,453.9 943.4,454 944.8,453.3 C946.2,452.6 947.4,450.4 947.3,449.1 C947.2,447.8 945.5,445.8 944.2,445.5 C942.9,445.2 940.4,446.5 939.4,447.3 C938.4,448.1 938.4,449.8 938.2,450.3" fill="none" stroke="#1a1a1a" stroke-width="4.0" stroke-linecap="round" stroke-linejoin="round"/><path d="M938.8,442.9 C938.2,443.2 935.9,443.7 935.2,444.9 C934.5,446 934.1,448.3 934.7,449.7 C935.3,451.1 937.1,452.7 938.8,453.3 C940.5,453.9 943.4,454 944.8,453.3 C946.2,452.6 947.4,450.4 947.3,449.1 C947.2,447.8 945.5,445.8 944.2,445.5 C942.9,445.2 940.4,446.5 939.4,447.3 C938.4,448.1 938.4,449.8 938.2,450.3" fill="none" stroke="#b4b4b4" stroke-width="2.3" stroke-linecap="round" stroke-linejoin="round"/><path d="M911.2,421.5 L911.2,439 L907.8,439 L913,450 L918.2,439 L914.8,439 L914.8,421.5Z" fill="#111"/>
<clipPath id="c3"><rect x="363" y="630" width="408" height="175.6"/></clipPath><g clip-path="url(#c3)"><path d="M393.6,624.7 C394.6,629.1 397.4,642.4 399.7,651.2 C401.9,660.1 404.7,670.1 406.9,677.8 C409.1,685.4 411.9,693.8 412.9,697.1" stroke="#b0b0b0" stroke-width="1.15" fill="none"/><path d="M411,735.7 C412.5,738.5 416.2,748.2 420.2,752.6 C424.1,756.9 429.4,759.9 434.7,761.8 C439.9,763.6 448.7,763.2 451.5,763.4" stroke="#b0b0b0" stroke-width="1.15" fill="none"/><path d="M525.2,624.7 C525.7,627.1 527.9,634.7 528.3,639.1 C528.7,643.6 528.7,647.6 527.6,651.2 C526.5,654.8 522.6,659.3 521.5,660.9" stroke="#b0b0b0" stroke-width="1.15" fill="none"/><path d="M540.9,685 C544,686.6 552.8,691.8 560,694.6 C567.2,697.4 574.1,698.2 584.1,701.9 C594.2,705.5 611.3,711.5 620.3,716.3 C629.4,721.2 635.2,726.8 638.4,730.8 C641.6,734.8 640.6,736.8 639.6,740.5 C638.6,744.1 637.6,748.9 632.4,752.5 C627.1,756.1 617.9,760 608.3,762.2 C598.6,764.4 582.5,765.2 574.5,765.8 C566.4,766.4 568.4,765.9 560,765.8 C551.6,765.7 539.6,765.5 524,765.1 C508.3,764.7 475.7,763.7 466,763.4" stroke="#b0b0b0" stroke-width="1.15" fill="none"/><path d="M394,628.6 C394.3,629.3 394.3,630.7 395.8,633.1 C397.3,635.5 399.7,639.7 403,643 C406.3,646.3 411.4,650.2 415.6,652.9 C419.8,655.6 424,657.6 428.2,659.2 C432.4,660.8 438.7,661.7 440.8,662.3 L456.1,660.6 C457.7,660 462.8,658.7 466,656.7 C469.1,654.7 472.3,651.6 475,648.8 C477.7,645.9 480.2,643.1 482.2,639.8 C484.2,636.4 486.4,630.5 487.2,628.6Z" fill="#ececec" stroke="none" stroke-width="1.26" /><path d="M394,628.6 C394.3,629.3 394.3,630.7 395.8,633.1 C397.3,635.5 399.7,639.7 403,643 C406.3,646.3 411.4,650.2 415.6,652.9 C419.8,655.6 424,657.6 428.2,659.2 C432.4,660.8 438.7,661.7 440.8,662.3" fill="none" stroke="#8a8a8a" stroke-width="1.15" /><path d="M456.1,660.6 C457.7,660 462.8,658.7 466,656.7 C469.1,654.7 472.3,651.6 475,648.8 C477.7,645.9 480.2,643.1 482.2,639.8 C484.2,636.4 486.4,630.5 487.2,628.6" fill="none" stroke="#8a8a8a" stroke-width="1.15" /><path d="M403.9,629.5 C405.2,630.8 409.1,635.3 412,637.6 C414.8,639.8 416.9,641.4 421,643 C425,644.6 433.7,646.4 436.3,647.1" fill="none" stroke="#8a8a8a" stroke-width="1.15" /><path d="M455.6,644.4 C457,643.9 461.9,642.5 464.2,641.2 C466.5,639.9 467.9,638.6 469.6,636.7 C471.2,634.7 473.3,630.7 474.1,629.5" fill="none" stroke="#8a8a8a" stroke-width="1.15" /><path transform="translate(355,615) scale(0.24137)" d="M478,545 C490,590 500,620 520,638 C545,652 590,656 620,646 C630,640 625,632 612,622 C590,600 575,560 560,500 Z" fill="#ececec" stroke="#8a8a8a" stroke-width="1.1" vector-effect="non-scaling-stroke" stroke-linejoin="round" /><circle cx="487.3" cy="681.4" r="4.6" fill="#ececec" stroke="#8a8a8a" stroke-width="1"/><circle cx="527.3" cy="707.2" r="4.6" fill="#ececec" stroke="#8a8a8a" stroke-width="1"/><path transform="translate(355,615) scale(0.24137)" d="M450,548 L458,408 L548,298 L562,262 L648,196 Q662,186 675,196 L760,268 Q772,280 764,296 L738,345 L712,392 L690,404 L560,492 Z" fill="#ececec" stroke="#8a8a8a" stroke-width="1.1" vector-effect="non-scaling-stroke" stroke-linejoin="round" /><path transform="translate(355,615) scale(0.24137)" d="M562,264 L716,376 M550,284 L700,396" fill="none" stroke="#8a8a8a" stroke-width="1" vector-effect="non-scaling-stroke" stroke-linejoin="round" /><path transform="translate(355,615) scale(0.24137)" d="M240,347 C228,365 221,385 220,410 C219,440 221,465 228,480 C240,495 270,510 300,518 L402,532 L392,412 C350,410 310,400 285,388 C265,378 250,362 240,347 Z" fill="#f2f2f2" stroke="#8a8a8a" stroke-width="1.1" vector-effect="non-scaling-stroke" stroke-linejoin="round" /><path d="M433.4,624.7 L454,624.7 L467.2,718.8 L455.9,787.8Z" fill="#ababab" stroke="#1a1a1a" stroke-width="1.38" stroke-linejoin="round"/><path d="M471.8,624.7 L497.4,692.7" fill="none" stroke="#1a1a1a" stroke-width="5.0" stroke-linecap="butt" stroke-linejoin="round"/><path d="M471.8,624.7 L497.4,692.7" fill="none" stroke="#a6a6a6" stroke-width="3.0" stroke-linecap="butt" stroke-linejoin="round"/><path d="M511.9,732.1 C511.3,733.5 509.3,735.9 508.5,740.5 C507.7,745.1 506.9,754.2 507.1,759.8 C507.2,765.5 508.1,770.1 509.5,774.3 C510.9,778.5 512.3,781.7 515.5,785.2 C518.7,788.6 524.6,793.8 528.8,794.8 C532.9,795.8 537.6,794.2 540.4,791.2 C543.1,788.2 545.1,781.7 545.2,776.7 C545.3,771.7 543.4,765.5 540.9,761 C538.3,756.6 534.3,754.9 530,750.2 C525.6,745.5 517.3,735.7 514.8,732.8" fill="none" stroke="#1a1a1a" stroke-width="4.2" stroke-linecap="butt" stroke-linejoin="round"/><path d="M511.9,732.1 C511.3,733.5 509.3,735.9 508.5,740.5 C507.7,745.1 506.9,754.2 507.1,759.8 C507.2,765.5 508.1,770.1 509.5,774.3 C510.9,778.5 512.3,781.7 515.5,785.2 C518.7,788.6 524.6,793.8 528.8,794.8 C532.9,795.8 537.6,794.2 540.4,791.2 C543.1,788.2 545.1,781.7 545.2,776.7 C545.3,771.7 543.4,765.5 540.9,761 C538.3,756.6 534.3,754.9 530,750.2 C525.6,745.5 517.3,735.7 514.8,732.8" fill="none" stroke="#9a9a9a" stroke-width="2.2" stroke-linecap="butt" stroke-linejoin="round"/><path d="M509.5,758.6 C509.6,761.2 508.8,769.8 510,774.3 C511.1,778.9 513.1,782.6 516.2,785.9 C519.4,789.2 524.9,793.3 528.8,794.1 C532.6,794.9 536.8,793.6 539.4,790.7 C542,787.8 544.2,781.5 544.2,776.7 C544.3,771.9 542.2,765.9 539.9,761.8 C537.6,757.6 531.8,753.3 530.2,751.6" fill="none" stroke="#1a1a1a" stroke-width="7" stroke-linecap="butt" stroke-linejoin="round"/><path d="M509.5,758.6 C509.6,761.2 508.8,769.8 510,774.3 C511.1,778.9 513.1,782.6 516.2,785.9 C519.4,789.2 524.9,793.3 528.8,794.1 C532.6,794.9 536.8,793.6 539.4,790.7 C542,787.8 544.2,781.5 544.2,776.7 C544.3,771.9 542.2,765.9 539.9,761.8 C537.6,757.6 531.8,753.3 530.2,751.6" fill="none" stroke="#9a9a9a" stroke-width="5.0" stroke-linecap="butt" stroke-linejoin="round"/><path d="M492.6,692.7 L502.2,689.8 L516.7,729.9 L507.1,733.8Z" fill="#9a9a9a" stroke="#1a1a1a" stroke-width="1.26" /><path d="M521.1,756.9 C521.2,758.6 524,763.4 522,767.1 C520.1,770.8 515.6,775.8 509.5,779.1 C503.4,782.4 494.2,785.2 485.3,786.9 C476.5,788.5 464.2,789.4 456.4,789.3 C448.5,789.1 442.4,787.6 438.3,785.9 C434.2,784.2 432.2,781.7 431.8,779.1 C431.4,776.6 433.8,772.9 435.9,770.7 C437.9,768.5 442.5,766.7 443.8,765.9" fill="none" stroke="#111" stroke-width="3.4" stroke-linecap="butt"/><path d="M449.6,762.2 L440,764.2 L446.2,772.4Z" fill="#111"/><path d="M517.9,693.1 L531.3,730.3 L527.8,731.6 L537,741 L538.1,727.8 L534.5,729.1 L521.1,691.9Z" fill="#111"/></g><clipPath id="c3r"><rect x="660" y="628" width="111" height="175.6"/></clipPath><g clip-path="url(#c3r)"><path d="M719.2,624.7 C719.7,626.7 720.8,633.4 722.1,636.7 C723.4,640 724.6,642.9 726.9,644.4 C729.3,646 732.6,646.7 736.1,645.9 C739.7,645.1 744.4,642.7 748.2,639.6 C752,636.5 757.2,629.2 759,627.1Z" fill="#ececec" stroke="#1a1a1a" stroke-width="1.26" /><path d="M692.2,624.7 L698,624.7 L696.6,675.3 L688.3,674.1Z" fill="#ababab" stroke="#1a1a1a" stroke-width="1.15" /><path d="M697.5,624.7 C697.4,633.1 696.8,660.8 696.6,675.3 C696.3,689.8 695.9,697.4 696.1,711.5 C696.2,725.6 696.1,746.9 697.5,759.8 C699,772.6 701.5,780.7 704.8,788.7 C708,796.7 714.8,804.8 716.8,808 L753,805.6 C751.8,805.4 750.2,806 745.8,804.4 C741.3,802.8 731.7,801.4 726.5,795.9 C721.2,790.5 717,781.9 714.4,771.8 C711.8,761.8 711.2,749.7 711,735.6 C710.9,721.6 712.6,701.4 713.4,687.4 C714.3,673.3 715.7,661.6 716.3,651.2 C717,640.7 717.1,629.1 717.3,624.7" fill="#ababab" stroke="#1a1a1a" stroke-width="1.26" /><path d="M717.3,644 C717.6,645.6 719.1,650.4 719.2,653.6 C719.3,656.8 718.2,661.6 718,663.3" fill="#ababab" stroke="#1a1a1a" stroke-width="1.15" /><path d="M688.3,672.9 L695.6,674.3 L692.2,702.8 L685.2,700.9Z" fill="#ababab" stroke="#1a1a1a" stroke-width="1.15" /><path d="M687.9,702.3 L684.2,713.9" fill="none" stroke="#1a1a1a" stroke-width="1.15" /><path d="M691.5,703.3 L691.5,710.3" fill="none" stroke="#1a1a1a" stroke-width="1.15" /><path d="M687.9,653.6 L723.1,658.4 L720.7,674.3 L685.5,671Z" fill="#d0d0d0" stroke="#1a1a1a" stroke-width="1.26" /><path d="M683.5,721.2 C683,719.6 681.6,745.3 680.6,750.1 C679.6,754.9 674.7,765.8 673.4,769.4 C672.1,773 667,784.6 667.4,785.8 C667.7,787 675.2,783.5 677,781.5 C678.9,779.5 685.3,771.8 685.9,765.8 C686.6,759.8 684.1,722.7 683.5,721.2Z" fill="#ababab" stroke="#1a1a1a" stroke-width="1.15" /><path d="M684.2,713.4 C685.4,710.7 688.6,709.1 690.3,709.6 C691.9,710.1 693.3,712 694.1,716.3 C694.9,720.7 694.9,730 695.1,735.6 C695.3,741.3 695.1,746.1 695.6,750.1 C696.1,754.1 698.8,756.5 698.2,759.8 C697.7,763 694.3,768.3 692.2,769.4 C690.2,770.5 687.4,770.5 685.9,766.5 C684.5,762.5 683.9,752 683.5,745.3 C683.1,738.5 683.4,731.3 683.5,726 C683.6,720.7 683.1,716.2 684.2,713.4Z" fill="#ababab" stroke="#1a1a1a" stroke-width="1.26" /><path d="M696.6,692.2 L696.6,750.1" fill="none" stroke="#1a1a1a" stroke-width="1.03" /></g>
<clipPath id="c1"><rect x="238.9" y="24.7" width="101.4" height="188.4" rx="5.5"/></clipPath><g clip-path="url(#c1)"><path d="M270.6,20.1 C270.5,24.3 271.4,35.7 270.1,45.4 C268.8,55.1 265.5,68.6 263,78.4 C260.5,88.1 257.2,95.3 254.9,103.7 C252.6,112.1 250.5,118.5 249.1,129 C247.7,139.6 246.8,152.3 246.5,167.1 C246.2,181.8 247.2,209.3 247.3,217.7 L279.5,217.7 L296,179.7 L308.6,156.9 L312.4,137.9 L306.1,121.4 L298,103.7 L293.4,78.4 L287.1,55.5 L277,32.2Z" fill="#e0e0e0" stroke="none" stroke-width="1.26" /><path d="M270.6,20.1 C270.5,24.3 271.4,35.7 270.1,45.4 C268.8,55.1 265.5,68.6 263,78.4 C260.5,88.1 257.2,95.3 254.9,103.7 C252.6,112.1 250.5,118.5 249.1,129 C247.7,139.6 246.8,152.3 246.5,167.1 C246.2,181.8 247.2,209.3 247.3,217.7" fill="none" stroke="#1a1a1a" stroke-width="1.15" /><path d="M273.2,60.6 C271.5,67.4 265.6,88.5 263,101.2 C260.4,113.8 258.5,124.8 257.4,136.6 C256.4,148.5 256.4,158.6 256.7,172.1 C257,185.6 258.8,210.1 259.2,217.7" fill="none" stroke="#1a1a1a" stroke-width="1.15" /><path d="M292.2,75.8 C291.1,79.6 288.4,90.6 285.8,98.6 C283.3,106.7 279.1,115.9 277,124 C274.8,132 272.7,138.8 273.2,146.8 C273.6,154.8 277,164.5 279.5,172.1 C282,179.7 286.9,189 288.4,192.4" fill="none" stroke="#1a1a1a" stroke-width="1.15" /><path d="M277,32.2 C281,36.5 292.8,47 301,58.1 C309.3,69.1 320.2,85.5 326.4,98.6 C332.5,111.7 336.9,125.2 337.8,136.6 C338.6,148 335.4,157.3 331.4,167.1 C327.4,176.8 320.5,186.5 313.7,194.9 C306.9,203.4 294.7,213.9 290.9,217.7 L279.5,217.7 L296,179.7 L308.6,156.9 L312.4,137.9 L306.1,121.4 L298,103.7 L293.4,78.4 L287.1,55.5 L277,32.2Z" fill="#a2a2a2" stroke="none" stroke-width="1.26" /><path d="M277,32.2 C281,36.5 292.8,47 301,58.1 C309.3,69.1 320.2,85.5 326.4,98.6 C332.5,111.7 336.9,125.2 337.8,136.6 C338.6,148 335.4,157.3 331.4,167.1 C327.4,176.8 320.5,186.5 313.7,194.9 C306.9,203.4 294.7,213.9 290.9,217.7" fill="none" stroke="#1a1a1a" stroke-width="1.26" /><path d="M277,32.2 C278.6,36.1 284.3,47.9 287.1,55.5 C289.8,63.2 291.6,70.3 293.4,78.4 C295.2,86.4 295.9,96.5 298,103.7 C300.1,110.9 303.7,115.7 306.1,121.4 C308.5,127.1 312,132 312.4,137.9 C312.9,143.8 311.4,149.9 308.6,156.9 C305.9,163.9 300.8,169.6 296,179.7 C291.1,189.9 282.2,211.4 279.5,217.7" fill="none" stroke="#1a1a1a" stroke-width="1.26" /><path d="M298.5,105 L305.6,115.1 L304.1,121.4 L313.2,137.9 L313.7,146.8 L301,167.1 L294.7,183.5 L288.4,184.8 L297.2,156.9 L299,129Z" fill="#727272" stroke="#1a1a1a" stroke-width="1.15" stroke-linejoin="round"/><path d="M301,167.1 L297.2,169.6 L296,177.2" fill="none" stroke="#1a1a1a" stroke-width="0.92" /><path d="M228.5,13.8 L285,114.8" stroke="#1a1a1a" stroke-width="24.8" stroke-linecap="round" fill="none"/><path d="M228.5,13.8 L285,114.8" stroke="#6c6c6c" stroke-width="22.4" stroke-linecap="round" fill="none"/><path d="M280.6,113.5 L295.9,137.8 L292.7,139.8 L303.8,147 L302,133.9 L298.8,136 L283.4,111.7Z" fill="#111"/></g>
<path d="M144,251 L236.3,139.8" stroke="#6e6e6e" stroke-width="2.6" stroke-dasharray="5.3 2.5" fill="none"/><path d="M150.5,352.5 H360" stroke="#6e6e6e" stroke-width="2.6" stroke-dasharray="5.3 2.5" fill="none"/><path d="M156,540.5 L360,688" stroke="#6e6e6e" stroke-width="2.6" stroke-dasharray="5.3 2.5" fill="none"/>
<path d="M507.8,202 V427" stroke="#808080" stroke-width="2.4"/><path d="M618.8,202 V427" stroke="#808080" stroke-width="2.4"/><path d="M655.8,648.5 V796.5" stroke="#808080" stroke-width="2.4"/><path d="M567,488.8 H827" stroke="#707070" stroke-width="1.5" stroke-dasharray="4.6 2"/>
<rect x="237.6" y="23.4" width="104" height="191" rx="6.5" fill="none" stroke="#6e6e6e" stroke-width="2.8"/><rect x="361.6" y="127.6" width="608.2" height="431.6" rx="7" fill="none" stroke="#6e6e6e" stroke-width="2.8"/><rect x="361.5" y="623.5" width="411" height="183.6" rx="7" fill="none" stroke="#6e6e6e" stroke-width="2.8"/><rect x="887.6" y="184.6" width="77.2" height="318" rx="6" fill="none" stroke="#9a9a9a" stroke-width="2.2"/>
<circle cx="326.5" cy="40.5" r="10.8" fill="#fff" stroke="#111" stroke-width="1.8"/><g transform="translate(326.5,40.5)"><path d="M1.9,-5.9 V6.2 H-0.6 V-2.9 L-3.3,-1.1 L-3.8,-3.2 L-0.1,-5.9 Z" fill="#111"/></g>
<circle cx="381.1" cy="148.6" r="10.8" fill="#fff" stroke="#111" stroke-width="1.8"/><g transform="translate(381.1,148.6)"><path d="M-3.2,-2.6 C-2.9,-4.4 -1.5,-4.8 -0.2,-4.8 C1.5,-4.8 2.8,-3.8 2.8,-2.2 C2.8,-0.6 1.7,0.4 0.5,1.6 L-3.3,5 L3.9,5" fill="none" stroke="#111" stroke-width="2.4" stroke-linejoin="miter"/></g>
<circle cx="378.8" cy="641.1" r="10.8" fill="#fff" stroke="#111" stroke-width="1.8"/><g transform="translate(378.8,641.1)"><path d="M-3.0,-3.5 C-2.1,-4.5 -0.9,-4.9 0.3,-4.9 C2.1,-4.9 3.3,-4.1 3.3,-2.6 C3.3,-0.9 1.9,-0.1 -0.3,0 C2.3,0.1 3.9,1.1 3.9,2.9 C3.9,4.9 2.3,5.8 0.3,5.8 C-1.1,5.8 -2.5,5.4 -3.5,4.5" fill="none" stroke="#111" stroke-width="2.4"/></g></svg></body></html>
